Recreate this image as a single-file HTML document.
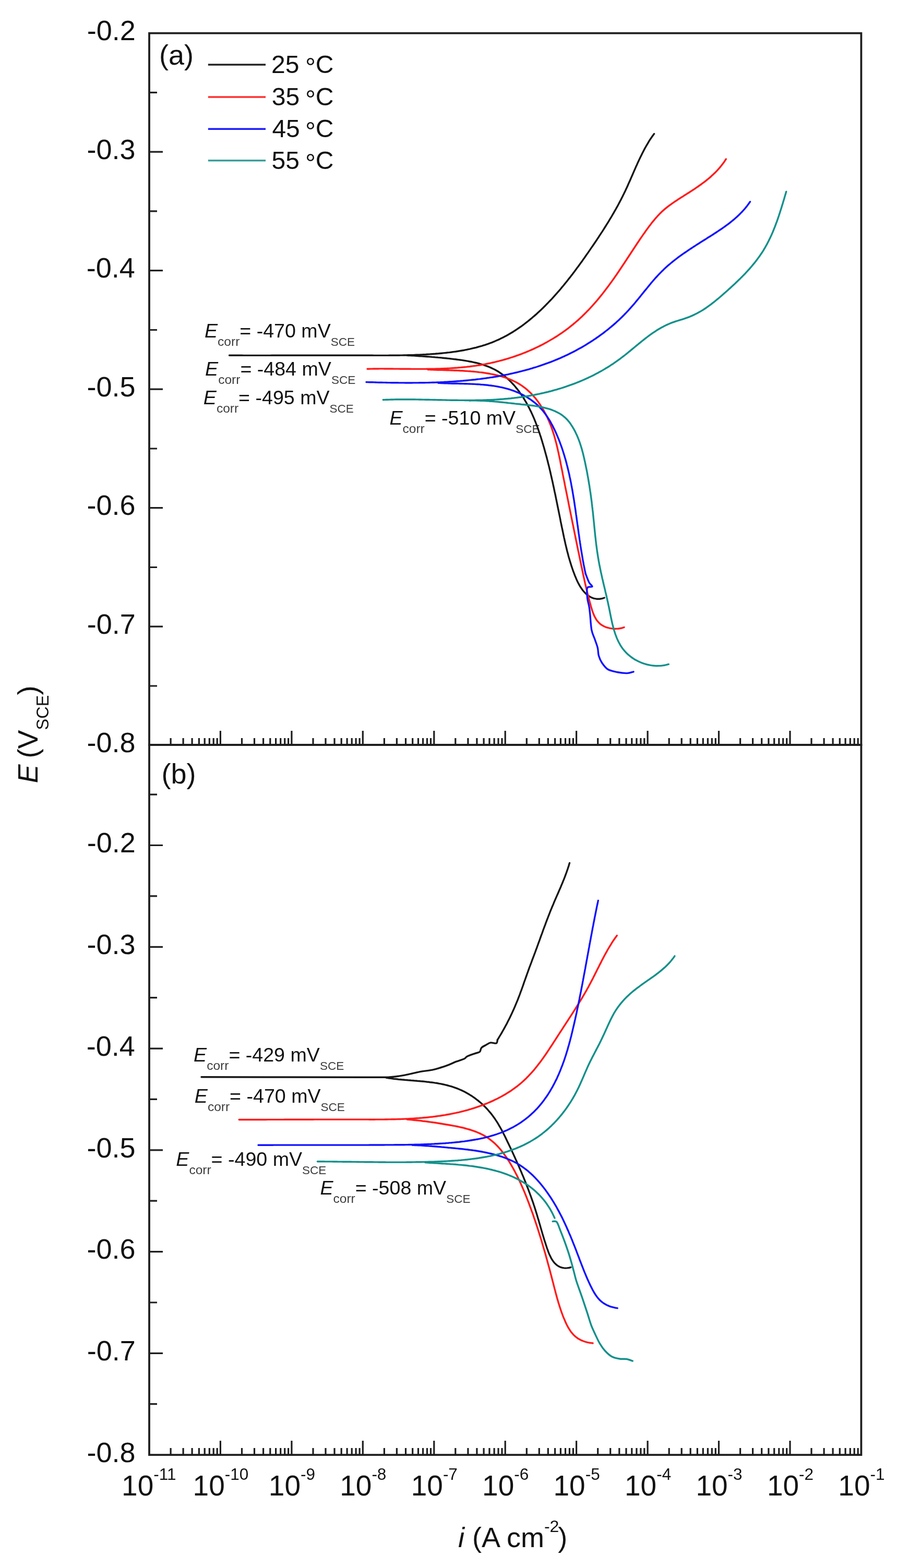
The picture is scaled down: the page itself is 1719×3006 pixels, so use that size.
<!DOCTYPE html>
<html><head><meta charset="utf-8"><title>Polarization curves</title>
<style>
html,body{margin:0;padding:0;background:#fff;}
svg{display:block;filter:blur(0.6px);}
text{font-family:'Liberation Sans', sans-serif;}
</style></head>
<body>
<svg width="1719" height="3006" viewBox="0 0 1719 3006">
<rect width="1719" height="3006" fill="#fff"/>
<g stroke="#1e1e1e" fill="none" stroke-width="3.8" stroke-linecap="square">
<path d="M286.0,63.7 H1650.4 V2789.1 H286.0 Z"/>
<path d="M286.0,1428.0 H1650.4"/>
</g>
<path stroke="#1e1e1e" stroke-width="3.2" fill="none" d="M327.1,1428.0 v-13 M351.1,1428.0 v-13 M368.1,1428.0 v-13 M381.4,1428.0 v-13 M392.2,1428.0 v-13 M401.3,1428.0 v-13 M409.2,1428.0 v-13 M416.2,1428.0 v-13 M422.4,1428.0 v-27 M463.5,1428.0 v-13 M487.5,1428.0 v-13 M504.6,1428.0 v-13 M517.8,1428.0 v-13 M528.6,1428.0 v-13 M537.7,1428.0 v-13 M545.7,1428.0 v-13 M552.6,1428.0 v-13 M558.9,1428.0 v-27 M600.0,1428.0 v-13 M624.0,1428.0 v-13 M641.0,1428.0 v-13 M654.2,1428.0 v-13 M665.1,1428.0 v-13 M674.2,1428.0 v-13 M682.1,1428.0 v-13 M689.1,1428.0 v-13 M695.3,1428.0 v-27 M736.4,1428.0 v-13 M760.4,1428.0 v-13 M777.5,1428.0 v-13 M790.7,1428.0 v-13 M801.5,1428.0 v-13 M810.6,1428.0 v-13 M818.5,1428.0 v-13 M825.5,1428.0 v-13 M831.8,1428.0 v-27 M872.8,1428.0 v-13 M896.9,1428.0 v-13 M913.9,1428.0 v-13 M927.1,1428.0 v-13 M937.9,1428.0 v-13 M947.1,1428.0 v-13 M955.0,1428.0 v-13 M962.0,1428.0 v-13 M968.2,1428.0 v-27 M1009.3,1428.0 v-13 M1033.3,1428.0 v-13 M1050.3,1428.0 v-13 M1063.6,1428.0 v-13 M1074.4,1428.0 v-13 M1083.5,1428.0 v-13 M1091.4,1428.0 v-13 M1098.4,1428.0 v-13 M1104.6,1428.0 v-27 M1145.7,1428.0 v-13 M1169.7,1428.0 v-13 M1186.8,1428.0 v-13 M1200.0,1428.0 v-13 M1210.8,1428.0 v-13 M1219.9,1428.0 v-13 M1227.9,1428.0 v-13 M1234.8,1428.0 v-13 M1241.1,1428.0 v-27 M1282.2,1428.0 v-13 M1306.2,1428.0 v-13 M1323.2,1428.0 v-13 M1336.4,1428.0 v-13 M1347.3,1428.0 v-13 M1356.4,1428.0 v-13 M1364.3,1428.0 v-13 M1371.3,1428.0 v-13 M1377.5,1428.0 v-27 M1418.6,1428.0 v-13 M1442.6,1428.0 v-13 M1459.7,1428.0 v-13 M1472.9,1428.0 v-13 M1483.7,1428.0 v-13 M1492.8,1428.0 v-13 M1500.7,1428.0 v-13 M1507.7,1428.0 v-13 M1514.0,1428.0 v-27 M1555.0,1428.0 v-13 M1579.1,1428.0 v-13 M1596.1,1428.0 v-13 M1609.3,1428.0 v-13 M1620.1,1428.0 v-13 M1629.3,1428.0 v-13 M1637.2,1428.0 v-13 M1644.2,1428.0 v-13 M327.1,2789.1 v-13 M351.1,2789.1 v-13 M368.1,2789.1 v-13 M381.4,2789.1 v-13 M392.2,2789.1 v-13 M401.3,2789.1 v-13 M409.2,2789.1 v-13 M416.2,2789.1 v-13 M422.4,2789.1 v-27 M463.5,2789.1 v-13 M487.5,2789.1 v-13 M504.6,2789.1 v-13 M517.8,2789.1 v-13 M528.6,2789.1 v-13 M537.7,2789.1 v-13 M545.7,2789.1 v-13 M552.6,2789.1 v-13 M558.9,2789.1 v-27 M600.0,2789.1 v-13 M624.0,2789.1 v-13 M641.0,2789.1 v-13 M654.2,2789.1 v-13 M665.1,2789.1 v-13 M674.2,2789.1 v-13 M682.1,2789.1 v-13 M689.1,2789.1 v-13 M695.3,2789.1 v-27 M736.4,2789.1 v-13 M760.4,2789.1 v-13 M777.5,2789.1 v-13 M790.7,2789.1 v-13 M801.5,2789.1 v-13 M810.6,2789.1 v-13 M818.5,2789.1 v-13 M825.5,2789.1 v-13 M831.8,2789.1 v-27 M872.8,2789.1 v-13 M896.9,2789.1 v-13 M913.9,2789.1 v-13 M927.1,2789.1 v-13 M937.9,2789.1 v-13 M947.1,2789.1 v-13 M955.0,2789.1 v-13 M962.0,2789.1 v-13 M968.2,2789.1 v-27 M1009.3,2789.1 v-13 M1033.3,2789.1 v-13 M1050.3,2789.1 v-13 M1063.6,2789.1 v-13 M1074.4,2789.1 v-13 M1083.5,2789.1 v-13 M1091.4,2789.1 v-13 M1098.4,2789.1 v-13 M1104.6,2789.1 v-27 M1145.7,2789.1 v-13 M1169.7,2789.1 v-13 M1186.8,2789.1 v-13 M1200.0,2789.1 v-13 M1210.8,2789.1 v-13 M1219.9,2789.1 v-13 M1227.9,2789.1 v-13 M1234.8,2789.1 v-13 M1241.1,2789.1 v-27 M1282.2,2789.1 v-13 M1306.2,2789.1 v-13 M1323.2,2789.1 v-13 M1336.4,2789.1 v-13 M1347.3,2789.1 v-13 M1356.4,2789.1 v-13 M1364.3,2789.1 v-13 M1371.3,2789.1 v-13 M1377.5,2789.1 v-27 M1418.6,2789.1 v-13 M1442.6,2789.1 v-13 M1459.7,2789.1 v-13 M1472.9,2789.1 v-13 M1483.7,2789.1 v-13 M1492.8,2789.1 v-13 M1500.7,2789.1 v-13 M1507.7,2789.1 v-13 M1514.0,2789.1 v-27 M1555.0,2789.1 v-13 M1579.1,2789.1 v-13 M1596.1,2789.1 v-13 M1609.3,2789.1 v-13 M1620.1,2789.1 v-13 M1629.3,2789.1 v-13 M1637.2,2789.1 v-13 M1644.2,2789.1 v-13 M286.0,291.2 h26 M286.0,518.7 h26 M286.0,746.2 h26 M286.0,973.7 h26 M286.0,1201.2 h26 M286.0,177.4 h15 M286.0,404.9 h15 M286.0,632.5 h15 M286.0,860.0 h15 M286.0,1087.5 h15 M286.0,1315.0 h15 M286.0,1620.5 h26 M286.0,1815.3 h26 M286.0,2010.1 h26 M286.0,2204.8 h26 M286.0,2399.6 h26 M286.0,2594.3 h26 M286.0,1523.2 h15 M286.0,1717.9 h15 M286.0,1912.7 h15 M286.0,2107.4 h15 M286.0,2302.2 h15 M286.0,2497.0 h15 M286.0,2691.7 h15"/>
<g font-family="'Liberation Sans', sans-serif" fill="#111">
<text x="259.9" y="77.2" font-size="54" text-anchor="end">-0.2</text>
<text x="259.6" y="304.7" font-size="54" text-anchor="end">-0.3</text>
<text x="258.8" y="532.2" font-size="54" text-anchor="end">-0.4</text>
<text x="259.5" y="759.7" font-size="54" text-anchor="end">-0.5</text>
<text x="259.6" y="987.2" font-size="54" text-anchor="end">-0.6</text>
<text x="259.9" y="1214.7" font-size="54" text-anchor="end">-0.7</text>
<text x="259.5" y="1442.2" font-size="54" text-anchor="end">-0.8</text>
<text x="259.9" y="1634.3" font-size="54" text-anchor="end">-0.2</text>
<text x="259.6" y="1829.1" font-size="54" text-anchor="end">-0.3</text>
<text x="258.8" y="2023.9" font-size="54" text-anchor="end">-0.4</text>
<text x="259.5" y="2218.6" font-size="54" text-anchor="end">-0.5</text>
<text x="259.6" y="2413.4" font-size="54" text-anchor="end">-0.6</text>
<text x="259.9" y="2608.1" font-size="54" text-anchor="end">-0.7</text>
<text x="259.5" y="2802.9" font-size="54" text-anchor="end">-0.8</text>
<text x="233.1" y="2867.0" font-size="55">10<tspan font-size="31.5" dy="-29.6">-11</tspan></text>
<text x="369.6" y="2867.0" font-size="55">10<tspan font-size="31.5" dy="-29.6">-10</tspan></text>
<text x="514.8" y="2867.0" font-size="55">10<tspan font-size="31.5" dy="-29.6">-9</tspan></text>
<text x="651.2" y="2867.0" font-size="55">10<tspan font-size="31.5" dy="-29.6">-8</tspan></text>
<text x="787.7" y="2867.0" font-size="55">10<tspan font-size="31.5" dy="-29.6">-7</tspan></text>
<text x="924.1" y="2867.0" font-size="55">10<tspan font-size="31.5" dy="-29.6">-6</tspan></text>
<text x="1060.5" y="2867.0" font-size="55">10<tspan font-size="31.5" dy="-29.6">-5</tspan></text>
<text x="1197.0" y="2867.0" font-size="55">10<tspan font-size="31.5" dy="-29.6">-4</tspan></text>
<text x="1333.4" y="2867.0" font-size="55">10<tspan font-size="31.5" dy="-29.6">-3</tspan></text>
<text x="1469.9" y="2867.0" font-size="55">10<tspan font-size="31.5" dy="-29.6">-2</tspan></text>
<text x="1606.3" y="2867.0" font-size="55">10<tspan font-size="31.5" dy="-29.6">-1</tspan></text>
<text x="877.9" y="2966.0" font-size="54"><tspan font-style="italic">i</tspan> (A cm<tspan font-size="32" dy="-29">-2</tspan><tspan dy="29" dx="-2">)</tspan></text>
<text transform="translate(71.5,1501.5) rotate(-90)" x="0" y="0" font-size="54"><tspan font-style="italic">E</tspan><tspan dx="-3"> (</tspan>V<tspan font-size="32.5" dy="21">SCE</tspan><tspan dy="-21">)</tspan></text>
<text x="305.0" y="124.0" font-size="54">(a)</text>
<text x="309.5" y="1501.5" font-size="54">(b)</text>
<path d="M398.8,124.0 H509" stroke="#222222" stroke-width="3.6"/>
<text x="520.1" y="140.2" font-size="48">25</text>
<text x="584.9" y="145.8" font-size="50">°</text>
<text x="604.7" y="140.2" font-size="48">C</text>
<path d="M398.8,186.0 H509" stroke="#ff3030" stroke-width="3.6"/>
<text x="520.7" y="202.2" font-size="48">35</text>
<text x="584.9" y="207.8" font-size="50">°</text>
<text x="604.7" y="202.2" font-size="48">C</text>
<path d="M398.8,247.2 H509" stroke="#1a1aff" stroke-width="3.6"/>
<text x="521.4" y="263.4" font-size="48">45</text>
<text x="584.9" y="269.0" font-size="50">°</text>
<text x="604.7" y="263.4" font-size="48">C</text>
<path d="M398.8,307.8 H509" stroke="#3a9e9a" stroke-width="3.6"/>
<text x="520.6" y="324.0" font-size="48">55</text>
<text x="584.9" y="329.6" font-size="50">°</text>
<text x="604.7" y="324.0" font-size="48">C</text>
<text x="392.0" y="647.2" font-size="37.6" font-style="italic">E</text>
<text x="417.1" y="663.2" font-size="24.5" fill="#3c3c3c">corr</text>
<text x="459.3" y="647.2" font-size="37.6">= -470 mV</text>
<text x="633.8" y="663.2" font-size="22.5" fill="#3c3c3c">SCE</text>
<text x="393.1" y="719.6" font-size="37.6" font-style="italic">E</text>
<text x="418.2" y="735.6" font-size="24.5" fill="#3c3c3c">corr</text>
<text x="460.4" y="719.6" font-size="37.6">= -484 mV</text>
<text x="634.9" y="735.6" font-size="22.5" fill="#3c3c3c">SCE</text>
<text x="389.8" y="774.5" font-size="37.6" font-style="italic">E</text>
<text x="414.9" y="790.5" font-size="24.5" fill="#3c3c3c">corr</text>
<text x="457.1" y="774.5" font-size="37.6">= -495 mV</text>
<text x="631.6" y="790.5" font-size="22.5" fill="#3c3c3c">SCE</text>
<text x="746.4" y="814.0" font-size="37.6" font-style="italic">E</text>
<text x="771.5" y="830.0" font-size="24.5" fill="#3c3c3c">corr</text>
<text x="813.7" y="814.0" font-size="37.6">= -510 mV</text>
<text x="988.2" y="830.0" font-size="22.5" fill="#3c3c3c">SCE</text>
<text x="371.1" y="2034.9" font-size="37.6" font-style="italic">E</text>
<text x="396.2" y="2050.9" font-size="24.5" fill="#3c3c3c">corr</text>
<text x="438.4" y="2034.9" font-size="37.6">= -429 mV</text>
<text x="612.9" y="2050.9" font-size="22.5" fill="#3c3c3c">SCE</text>
<text x="372.8" y="2113.9" font-size="37.6" font-style="italic">E</text>
<text x="397.9" y="2129.9" font-size="24.5" fill="#3c3c3c">corr</text>
<text x="440.1" y="2113.9" font-size="37.6">= -470 mV</text>
<text x="614.6" y="2129.9" font-size="22.5" fill="#3c3c3c">SCE</text>
<text x="337.3" y="2234.5" font-size="37.6" font-style="italic">E</text>
<text x="362.4" y="2250.5" font-size="24.5" fill="#3c3c3c">corr</text>
<text x="404.6" y="2234.5" font-size="37.6">= -490 mV</text>
<text x="579.1" y="2250.5" font-size="22.5" fill="#3c3c3c">SCE</text>
<text x="613.4" y="2290.1" font-size="37.6" font-style="italic">E</text>
<text x="638.5" y="2306.1" font-size="24.5" fill="#3c3c3c">corr</text>
<text x="680.7" y="2290.1" font-size="37.6">= -508 mV</text>
<text x="855.2" y="2306.1" font-size="22.5" fill="#3c3c3c">SCE</text>
</g>
<path d="M439.5,681.3 L442.5,681.3 L445.5,681.3 L448.5,681.3 L451.5,681.3 L454.5,681.3 L457.5,681.3 L460.6,681.3 L463.6,681.3 L466.6,681.4 L469.6,681.4 L472.6,681.4 L475.6,681.4 L478.6,681.4 L481.6,681.4 L484.6,681.4 L487.7,681.4 L490.7,681.4 L493.7,681.4 L496.7,681.4 L499.7,681.4 L502.7,681.4 L505.7,681.4 L508.8,681.4 L511.8,681.4 L514.8,681.4 L517.8,681.4 L520.8,681.3 L523.8,681.3 L526.8,681.3 L529.9,681.3 L532.9,681.3 L535.9,681.3 L538.9,681.3 L541.9,681.3 L544.9,681.3 L548.0,681.3 L551.0,681.3 L554.0,681.3 L557.0,681.3 L560.0,681.3 L563.1,681.3 L566.1,681.3 L569.1,681.3 L572.1,681.3 L575.1,681.3 L578.1,681.3 L581.2,681.3 L584.2,681.3 L587.2,681.2 L590.2,681.2 L593.2,681.2 L596.2,681.2 L599.3,681.2 L602.3,681.2 L605.3,681.2 L608.3,681.2 L611.3,681.2 L614.3,681.2 L617.3,681.2 L620.4,681.2 L623.4,681.2 L626.4,681.2 L629.4,681.2 L632.4,681.2 L635.4,681.2 L638.4,681.2 L641.5,681.2 L644.5,681.2 L647.5,681.2 L650.5,681.2 L653.5,681.2 L656.5,681.2 L659.5,681.2 L662.5,681.2 L665.5,681.2 L668.6,681.2 L671.6,681.2 L674.6,681.2 L677.6,681.2 L680.6,681.2 L683.6,681.2 L686.6,681.3 L689.6,681.3 L692.6,681.3 L695.6,681.3 L698.6,681.3 L701.6,681.3 L704.6,681.3 L707.6,681.3 L710.6,681.3 L713.6,681.3 L716.6,681.4 L719.6,681.4 L722.6,681.4 L725.6,681.4 L728.6,681.4 L731.6,681.4 L734.6,681.4 L737.6,681.4 L740.6,681.4 L743.6,681.4 L746.6,681.3 L749.6,681.3 L752.6,681.3 L755.6,681.3 L758.6,681.3 L761.6,681.2 L764.6,681.2 L767.6,681.1 L770.7,681.1 L773.7,681.0 L776.7,681.0 L779.7,680.9 L782.7,680.8 L785.7,680.7 L788.7,680.6 L791.7,680.6 L794.7,680.4 L797.8,680.3 L800.8,680.2 L803.8,680.1 L806.8,679.9 L809.8,679.8 L812.9,679.6 L815.9,679.5 L818.9,679.3 L822.0,679.1 L825.0,678.9 L828.0,678.7 L831.1,678.5 L834.1,678.3 L837.1,678.0 L840.2,677.8 L843.2,677.5 L846.2,677.2 L849.3,676.9 L852.3,676.6 L855.4,676.3 L858.4,675.9 L861.4,675.6 L864.4,675.2 L867.5,674.8 L870.5,674.4 L873.5,674.0 L876.5,673.5 L879.5,673.0 L882.5,672.5 L885.5,672.0 L888.5,671.5 L891.5,670.9 L894.4,670.3 L897.4,669.7 L900.3,669.1 L903.3,668.4 L906.2,667.7 L909.1,667.0 L912.1,666.3 L915.0,665.5 L917.9,664.7 L920.7,663.9 L923.6,663.1 L926.5,662.2 L929.3,661.3 L932.1,660.3 L935.0,659.4 L937.8,658.4 L940.5,657.3 L943.3,656.3 L946.1,655.2 L948.8,654.0 L951.5,652.8 L954.3,651.6 L957.0,650.4 L959.6,649.1 L962.3,647.8 L964.9,646.5 L967.6,645.1 L970.2,643.7 L972.8,642.3 L975.4,640.8 L977.9,639.3 L980.5,637.8 L983.0,636.2 L985.5,634.6 L988.0,633.0 L990.5,631.4 L993.0,629.7 L995.4,628.0 L997.9,626.3 L1000.3,624.6 L1002.7,622.8 L1005.1,621.0 L1007.5,619.2 L1009.8,617.4 L1012.2,615.5 L1014.5,613.6 L1016.9,611.7 L1019.2,609.8 L1021.4,607.8 L1023.7,605.9 L1026.0,603.9 L1028.2,601.9 L1030.5,599.8 L1032.7,597.8 L1034.9,595.7 L1037.1,593.7 L1039.3,591.6 L1041.4,589.5 L1043.6,587.3 L1045.7,585.2 L1047.8,583.0 L1049.9,580.9 L1052.0,578.7 L1054.1,576.5 L1056.2,574.3 L1058.3,572.1 L1060.3,569.9 L1062.3,567.6 L1064.3,565.4 L1066.3,563.1 L1068.3,560.9 L1070.3,558.6 L1072.3,556.3 L1074.3,554.0 L1076.2,551.7 L1078.1,549.3 L1080.1,547.0 L1082.0,544.7 L1083.9,542.3 L1085.8,540.0 L1087.7,537.6 L1089.5,535.2 L1091.4,532.9 L1093.3,530.5 L1095.1,528.1 L1097.0,525.7 L1098.8,523.3 L1100.6,520.9 L1102.4,518.4 L1104.2,516.0 L1106.0,513.6 L1107.8,511.2 L1109.6,508.7 L1111.4,506.3 L1113.2,503.8 L1114.9,501.4 L1116.7,498.9 L1118.4,496.4 L1120.2,494.0 L1121.9,491.5 L1123.6,489.0 L1125.4,486.6 L1127.1,484.1 L1128.8,481.6 L1130.5,479.1 L1132.2,476.6 L1133.9,474.1 L1135.6,471.7 L1137.3,469.2 L1139.0,466.7 L1140.7,464.2 L1142.4,461.7 L1144.1,459.2 L1145.7,456.7 L1147.4,454.2 L1149.0,451.7 L1150.7,449.1 L1152.3,446.6 L1154.0,444.1 L1155.6,441.6 L1157.2,439.1 L1158.8,436.5 L1160.4,434.0 L1162.0,431.4 L1163.6,428.9 L1165.2,426.3 L1166.7,423.8 L1168.3,421.2 L1169.8,418.7 L1171.4,416.1 L1172.9,413.5 L1174.4,410.9 L1175.9,408.3 L1177.4,405.7 L1178.9,403.1 L1180.4,400.5 L1181.8,397.9 L1183.3,395.3 L1184.7,392.7 L1186.1,390.0 L1187.5,387.4 L1188.9,384.7 L1190.3,382.1 L1191.6,379.4 L1193.0,376.7 L1194.3,374.0 L1195.7,371.3 L1197.0,368.6 L1198.3,365.9 L1199.5,363.2 L1200.8,360.5 L1202.1,357.7 L1203.3,355.0 L1204.5,352.2 L1205.7,349.5 L1207.0,346.7 L1208.2,344.0 L1209.4,341.2 L1210.6,338.4 L1211.8,335.7 L1213.0,332.9 L1214.2,330.1 L1215.4,327.4 L1216.6,324.6 L1217.8,321.9 L1219.0,319.1 L1220.3,316.4 L1221.5,313.6 L1222.7,310.9 L1224.0,308.2 L1225.3,305.4 L1226.6,302.7 L1227.9,300.0 L1229.2,297.4 L1230.5,294.7 L1231.9,292.0 L1233.2,289.4 L1234.6,286.7 L1236.0,284.1 L1237.5,281.5 L1239.0,278.9 L1240.5,276.3 L1242.0,273.8 L1243.5,271.2 L1245.1,268.7 L1246.7,266.2 L1248.4,263.8 L1250.1,261.3 L1251.8,258.9 L1253.6,256.5" stroke="#161616" stroke-width="3.4" fill="none" stroke-linejoin="round" stroke-linecap="round"/>
<path d="M780.0,681.3 L783.1,681.5 L786.2,681.6 L789.2,681.8 L792.3,681.9 L795.3,682.1 L798.3,682.3 L801.4,682.5 L804.4,682.7 L807.4,682.9 L810.3,683.1 L813.3,683.3 L816.3,683.5 L819.2,683.7 L822.2,683.9 L825.2,684.1 L828.1,684.4 L831.1,684.6 L834.0,684.9 L837.0,685.1 L839.9,685.4 L842.9,685.6 L845.8,685.9 L848.8,686.2 L851.7,686.5 L854.7,686.8 L857.7,687.1 L860.7,687.4 L863.6,687.8 L866.6,688.1 L869.7,688.5 L872.7,688.8 L875.7,689.2 L878.7,689.6 L881.8,690.0 L884.8,690.4 L887.9,690.9 L890.9,691.4 L893.9,691.9 L897.0,692.4 L900.0,693.0 L903.0,693.5 L906.0,694.2 L909.0,694.8 L912.0,695.5 L915.0,696.2 L917.9,697.0 L920.8,697.8 L923.7,698.7 L926.6,699.6 L929.5,700.6 L932.3,701.6 L935.1,702.6 L937.9,703.8 L940.6,704.9 L943.3,706.2 L946.0,707.5 L948.6,708.8 L951.2,710.3 L953.8,711.8 L956.3,713.3 L958.7,715.0 L961.1,716.6 L963.5,718.4 L965.9,720.2 L968.2,722.0 L970.4,724.0 L972.7,725.9 L974.9,727.9 L977.0,730.0 L979.1,732.1 L981.2,734.3 L983.2,736.5 L985.2,738.7 L987.2,741.0 L989.1,743.3 L991.0,745.6 L992.8,748.0 L994.7,750.4 L996.4,752.9 L998.2,755.4 L999.9,757.9 L1001.5,760.4 L1003.2,762.9 L1004.8,765.5 L1006.3,768.1 L1007.9,770.7 L1009.4,773.3 L1010.8,776.0 L1012.2,778.6 L1013.6,781.3 L1015.0,784.0 L1016.3,786.7 L1017.7,789.4 L1018.9,792.1 L1020.2,794.9 L1021.4,797.6 L1022.6,800.4 L1023.8,803.2 L1024.9,805.9 L1026.0,808.7 L1027.1,811.5 L1028.2,814.4 L1029.3,817.2 L1030.3,820.0 L1031.3,822.8 L1032.3,825.7 L1033.3,828.5 L1034.3,831.4 L1035.2,834.3 L1036.2,837.1 L1037.1,840.0 L1038.0,842.9 L1038.9,845.8 L1039.7,848.7 L1040.6,851.6 L1041.4,854.4 L1042.3,857.3 L1043.1,860.2 L1043.9,863.1 L1044.7,866.1 L1045.5,869.0 L1046.3,871.9 L1047.1,874.8 L1047.9,877.7 L1048.6,880.6 L1049.4,883.5 L1050.1,886.5 L1050.8,889.4 L1051.6,892.3 L1052.3,895.2 L1053.0,898.2 L1053.7,901.1 L1054.4,904.0 L1055.1,907.0 L1055.7,909.9 L1056.4,912.9 L1057.1,915.8 L1057.7,918.7 L1058.4,921.7 L1059.1,924.6 L1059.7,927.6 L1060.3,930.5 L1061.0,933.5 L1061.6,936.4 L1062.2,939.4 L1062.8,942.3 L1063.5,945.3 L1064.1,948.2 L1064.7,951.2 L1065.3,954.1 L1065.9,957.1 L1066.5,960.0 L1067.1,963.0 L1067.7,965.9 L1068.3,968.9 L1068.9,971.8 L1069.5,974.8 L1070.1,977.7 L1070.7,980.7 L1071.3,983.6 L1071.9,986.5 L1072.5,989.5 L1073.1,992.4 L1073.7,995.4 L1074.2,998.3 L1074.8,1001.3 L1075.4,1004.2 L1076.0,1007.1 L1076.6,1010.1 L1077.2,1013.0 L1077.9,1016.0 L1078.5,1018.9 L1079.1,1021.8 L1079.7,1024.8 L1080.3,1027.7 L1080.9,1030.6 L1081.6,1033.5 L1082.2,1036.5 L1082.9,1039.4 L1083.5,1042.3 L1084.2,1045.2 L1084.9,1048.1 L1085.6,1051.0 L1086.3,1054.0 L1087.0,1056.9 L1087.8,1059.8 L1088.6,1062.7 L1089.3,1065.6 L1090.1,1068.5 L1091.0,1071.4 L1091.8,1074.3 L1092.7,1077.2 L1093.6,1080.1 L1094.5,1083.0 L1095.4,1085.9 L1096.4,1088.8 L1097.4,1091.7 L1098.4,1094.6 L1099.5,1097.5 L1100.6,1100.4 L1101.7,1103.3 L1102.9,1106.2 L1104.1,1109.1 L1105.3,1111.9 L1106.6,1114.7 L1108.0,1117.5 L1109.4,1120.1 L1110.9,1122.8 L1112.4,1125.3 L1114.1,1127.8 L1115.8,1130.2 L1117.5,1132.5 L1119.4,1134.7 L1121.4,1136.8 L1123.4,1138.7 L1125.6,1140.6 L1127.8,1142.2 L1130.1,1143.7 L1132.6,1145.0 L1135.1,1146.2 L1137.7,1147.1 L1140.4,1147.7 L1143.2,1148.2 L1146.0,1148.3 L1149.0,1148.2 L1152.0,1147.8 L1155.0,1147.1 L1158.2,1146.0" stroke="#161616" stroke-width="3.4" fill="none" stroke-linejoin="round" stroke-linecap="round"/>
<path d="M704.0,707.2 L707.0,707.2 L710.0,707.1 L713.0,707.1 L716.0,707.0 L718.9,707.0 L721.9,707.0 L724.9,707.0 L727.9,706.9 L730.9,706.9 L733.9,706.9 L737.0,707.0 L740.0,707.0 L743.0,707.0 L746.0,707.0 L749.0,707.0 L752.0,707.0 L755.0,707.1 L758.0,707.1 L761.1,707.1 L764.1,707.1 L767.1,707.2 L770.1,707.2 L773.2,707.2 L776.2,707.3 L779.2,707.3 L782.2,707.3 L785.3,707.3 L788.3,707.4 L791.3,707.4 L794.3,707.4 L797.4,707.4 L800.4,707.4 L803.4,707.4 L806.5,707.4 L809.5,707.4 L812.5,707.4 L815.5,707.4 L818.6,707.3 L821.6,707.3 L824.6,707.3 L827.7,707.2 L830.7,707.2 L833.7,707.1 L836.7,707.0 L839.8,706.9 L842.8,706.9 L845.8,706.7 L848.8,706.6 L851.9,706.5 L854.9,706.4 L857.9,706.2 L860.9,706.1 L863.9,705.9 L866.9,705.7 L870.0,705.5 L873.0,705.3 L876.0,705.1 L879.0,704.8 L882.0,704.6 L885.0,704.3 L888.0,704.0 L891.0,703.7 L894.0,703.4 L897.0,703.0 L900.0,702.7 L903.0,702.3 L906.0,701.9 L908.9,701.5 L911.9,701.1 L914.9,700.6 L917.9,700.2 L920.9,699.7 L923.8,699.2 L926.8,698.6 L929.7,698.1 L932.7,697.5 L935.7,696.9 L938.6,696.3 L941.6,695.7 L944.5,695.0 L947.4,694.3 L950.4,693.6 L953.3,692.9 L956.2,692.2 L959.1,691.4 L962.0,690.6 L964.9,689.8 L967.8,689.0 L970.7,688.2 L973.6,687.3 L976.5,686.4 L979.4,685.5 L982.2,684.6 L985.1,683.6 L987.9,682.7 L990.8,681.7 L993.6,680.7 L996.4,679.6 L999.2,678.6 L1002.0,677.5 L1004.8,676.4 L1007.6,675.3 L1010.4,674.1 L1013.1,673.0 L1015.9,671.8 L1018.6,670.6 L1021.4,669.4 L1024.1,668.1 L1026.8,666.8 L1029.5,665.6 L1032.2,664.2 L1034.9,662.9 L1037.6,661.6 L1040.2,660.2 L1042.9,658.8 L1045.5,657.3 L1048.1,655.9 L1050.7,654.4 L1053.3,652.9 L1055.9,651.4 L1058.5,649.9 L1061.0,648.4 L1063.6,646.8 L1066.1,645.2 L1068.6,643.6 L1071.1,641.9 L1073.6,640.2 L1076.1,638.6 L1078.5,636.8 L1081.0,635.1 L1083.4,633.4 L1085.8,631.6 L1088.2,629.8 L1090.6,628.0 L1092.9,626.1 L1095.3,624.2 L1097.6,622.4 L1099.9,620.4 L1102.2,618.5 L1104.5,616.5 L1106.7,614.6 L1109.0,612.6 L1111.2,610.5 L1113.4,608.5 L1115.6,606.4 L1117.8,604.3 L1119.9,602.2 L1122.1,600.1 L1124.2,597.9 L1126.3,595.7 L1128.4,593.6 L1130.5,591.4 L1132.5,589.1 L1134.6,586.9 L1136.6,584.6 L1138.6,582.4 L1140.6,580.1 L1142.6,577.8 L1144.6,575.5 L1146.5,573.1 L1148.4,570.8 L1150.4,568.4 L1152.3,566.1 L1154.2,563.7 L1156.1,561.3 L1157.9,558.9 L1159.8,556.5 L1161.6,554.1 L1163.5,551.6 L1165.3,549.2 L1167.1,546.8 L1168.9,544.3 L1170.7,541.8 L1172.5,539.4 L1174.2,536.9 L1176.0,534.4 L1177.7,532.0 L1179.4,529.5 L1181.2,527.0 L1182.9,524.5 L1184.6,522.0 L1186.3,519.5 L1187.9,517.0 L1189.6,514.5 L1191.3,512.0 L1192.9,509.5 L1194.6,507.0 L1196.3,504.5 L1197.9,502.0 L1199.6,499.5 L1201.2,497.0 L1202.8,494.5 L1204.5,492.0 L1206.1,489.5 L1207.8,487.0 L1209.4,484.5 L1211.0,482.0 L1212.7,479.5 L1214.3,477.0 L1216.0,474.5 L1217.6,472.0 L1219.3,469.5 L1220.9,467.0 L1222.6,464.5 L1224.3,462.0 L1225.9,459.5 L1227.6,457.1 L1229.3,454.6 L1231.0,452.1 L1232.7,449.6 L1234.5,447.2 L1236.2,444.7 L1237.9,442.3 L1239.7,439.8 L1241.4,437.4 L1243.2,435.0 L1245.0,432.6 L1246.9,430.2 L1248.7,427.8 L1250.6,425.4 L1252.5,423.1 L1254.4,420.8 L1256.3,418.5 L1258.3,416.3 L1260.3,414.0 L1262.4,411.9 L1264.4,409.7 L1266.6,407.6 L1268.7,405.6 L1270.9,403.5 L1273.1,401.6 L1275.4,399.6 L1277.7,397.8 L1280.1,395.9 L1282.5,394.1 L1284.9,392.3 L1287.3,390.6 L1289.8,388.8 L1292.3,387.1 L1294.8,385.5 L1297.3,383.8 L1299.8,382.1 L1302.4,380.5 L1304.9,378.9 L1307.5,377.3 L1310.1,375.6 L1312.6,374.0 L1315.2,372.4 L1317.7,370.8 L1320.3,369.2 L1322.8,367.5 L1325.4,365.9 L1327.9,364.2 L1330.4,362.6 L1332.9,360.9 L1335.4,359.2 L1337.9,357.5 L1340.4,355.7 L1342.8,354.0 L1345.3,352.2 L1347.7,350.4 L1350.1,348.6 L1352.4,346.8 L1354.8,344.9 L1357.1,343.0 L1359.4,341.1 L1361.7,339.1 L1363.9,337.1 L1366.1,335.1 L1368.3,333.0 L1370.4,331.0 L1372.5,328.8 L1374.6,326.6 L1376.6,324.4 L1378.6,322.2 L1380.5,319.9 L1382.4,317.5 L1384.3,315.1 L1386.1,312.7 L1387.9,310.2 L1389.6,307.6 L1391.3,305.0" stroke="#ff1c1c" stroke-width="3.4" fill="none" stroke-linejoin="round" stroke-linecap="round"/>
<path d="M820.0,708.5 L823.1,708.6 L826.2,708.8 L829.3,708.9 L832.4,709.0 L835.4,709.1 L838.4,709.2 L841.5,709.3 L844.5,709.4 L847.5,709.4 L850.5,709.5 L853.5,709.6 L856.5,709.7 L859.4,709.8 L862.4,709.9 L865.4,710.0 L868.3,710.1 L871.3,710.2 L874.2,710.3 L877.2,710.4 L880.1,710.5 L883.1,710.7 L886.0,710.8 L889.0,711.0 L892.0,711.2 L894.9,711.4 L897.9,711.6 L900.9,711.8 L903.9,712.1 L906.9,712.3 L909.9,712.6 L912.9,712.9 L915.9,713.2 L918.9,713.6 L922.0,713.9 L925.0,714.3 L928.1,714.8 L931.1,715.2 L934.1,715.7 L937.2,716.2 L940.2,716.8 L943.3,717.4 L946.3,718.0 L949.3,718.7 L952.3,719.4 L955.3,720.1 L958.2,720.9 L961.2,721.7 L964.1,722.6 L967.0,723.5 L969.9,724.5 L972.7,725.5 L975.6,726.6 L978.3,727.7 L981.1,728.9 L983.8,730.2 L986.5,731.5 L989.2,732.8 L991.8,734.3 L994.3,735.7 L996.9,737.3 L999.3,738.9 L1001.8,740.6 L1004.1,742.3 L1006.5,744.1 L1008.8,746.0 L1011.0,747.9 L1013.2,749.9 L1015.4,751.9 L1017.5,754.0 L1019.5,756.1 L1021.6,758.3 L1023.5,760.6 L1025.5,762.8 L1027.3,765.1 L1029.2,767.5 L1031.0,769.9 L1032.7,772.4 L1034.5,774.8 L1036.1,777.3 L1037.7,779.9 L1039.3,782.5 L1040.9,785.1 L1042.4,787.7 L1043.8,790.4 L1045.3,793.0 L1046.6,795.7 L1048.0,798.5 L1049.3,801.2 L1050.5,804.0 L1051.8,806.8 L1052.9,809.5 L1054.1,812.3 L1055.2,815.2 L1056.3,818.0 L1057.3,820.8 L1058.3,823.7 L1059.2,826.5 L1060.2,829.4 L1061.1,832.2 L1062.0,835.1 L1062.8,838.0 L1063.6,840.9 L1064.4,843.8 L1065.2,846.7 L1066.0,849.6 L1066.7,852.5 L1067.4,855.5 L1068.1,858.4 L1068.8,861.3 L1069.4,864.3 L1070.1,867.2 L1070.7,870.2 L1071.3,873.1 L1072.0,876.1 L1072.6,879.0 L1073.2,882.0 L1073.8,884.9 L1074.3,887.9 L1074.9,890.9 L1075.5,893.8 L1076.1,896.8 L1076.7,899.7 L1077.3,902.7 L1077.9,905.7 L1078.4,908.6 L1079.0,911.6 L1079.6,914.6 L1080.2,917.5 L1080.8,920.5 L1081.4,923.4 L1082.0,926.4 L1082.5,929.4 L1083.1,932.3 L1083.7,935.3 L1084.3,938.2 L1084.9,941.2 L1085.5,944.2 L1086.1,947.1 L1086.7,950.1 L1087.3,953.0 L1087.9,956.0 L1088.5,959.0 L1089.1,961.9 L1089.6,964.9 L1090.2,967.8 L1090.8,970.8 L1091.4,973.7 L1092.0,976.7 L1092.6,979.7 L1093.2,982.6 L1093.8,985.6 L1094.4,988.5 L1095.0,991.5 L1095.6,994.4 L1096.2,997.4 L1096.8,1000.3 L1097.4,1003.3 L1098.0,1006.2 L1098.6,1009.2 L1099.2,1012.2 L1099.8,1015.1 L1100.4,1018.1 L1101.0,1021.0 L1101.6,1024.0 L1102.2,1026.9 L1102.8,1029.9 L1103.4,1032.8 L1104.0,1035.8 L1104.6,1038.7 L1105.2,1041.7 L1105.8,1044.6 L1106.4,1047.6 L1107.0,1050.5 L1107.6,1053.5 L1108.2,1056.4 L1108.9,1059.4 L1109.5,1062.3 L1110.1,1065.3 L1110.7,1068.2 L1111.3,1071.2 L1111.9,1074.1 L1112.5,1077.1 L1113.1,1080.0 L1113.7,1082.9 L1114.3,1085.9 L1115.0,1088.8 L1115.6,1091.8 L1116.2,1094.7 L1116.8,1097.7 L1117.4,1100.6 L1118.1,1103.6 L1118.7,1106.5 L1119.4,1109.4 L1120.0,1112.4 L1120.7,1115.3 L1121.3,1118.3 L1122.0,1121.2 L1122.7,1124.2 L1123.4,1127.1 L1124.1,1130.0 L1124.8,1133.0 L1125.5,1135.9 L1126.2,1138.9 L1127.0,1141.8 L1127.7,1144.8 L1128.5,1147.7 L1129.3,1150.6 L1130.1,1153.6 L1130.9,1156.5 L1131.7,1159.5 L1132.5,1162.4 L1133.4,1165.3 L1134.3,1168.3 L1135.2,1171.2 L1136.2,1174.0 L1137.2,1176.8 L1138.4,1179.5 L1139.6,1182.2 L1141.0,1184.7 L1142.4,1187.2 L1144.0,1189.5 L1145.8,1191.7 L1147.7,1193.8 L1149.8,1195.8 L1152.0,1197.5 L1154.5,1199.1 L1157.1,1200.5 L1159.9,1201.8 L1162.8,1202.8 L1165.8,1203.7 L1168.9,1204.4 L1172.0,1204.9 L1175.2,1205.3 L1178.3,1205.5 L1181.5,1205.4 L1184.6,1205.2 L1187.6,1204.8 L1190.5,1204.3 L1193.3,1203.5 L1196.0,1202.6" stroke="#ff1c1c" stroke-width="3.4" fill="none" stroke-linejoin="round" stroke-linecap="round"/>
<path d="M702.0,732.5 L705.0,732.6 L708.0,732.7 L710.9,732.7 L713.9,732.8 L716.9,732.9 L719.9,733.0 L722.8,733.1 L725.8,733.2 L728.8,733.2 L731.8,733.3 L734.8,733.4 L737.8,733.4 L740.8,733.5 L743.8,733.6 L746.8,733.6 L749.8,733.7 L752.9,733.7 L755.9,733.8 L758.9,733.8 L761.9,733.8 L764.9,733.9 L768.0,733.9 L771.0,733.9 L774.0,733.9 L777.0,734.0 L780.1,734.0 L783.1,734.0 L786.1,734.0 L789.2,734.0 L792.2,733.9 L795.2,733.9 L798.3,733.9 L801.3,733.9 L804.3,733.8 L807.4,733.8 L810.4,733.8 L813.4,733.7 L816.5,733.6 L819.5,733.6 L822.6,733.5 L825.6,733.4 L828.6,733.3 L831.7,733.2 L834.7,733.1 L837.8,733.0 L840.8,732.9 L843.8,732.8 L846.9,732.6 L849.9,732.5 L853.0,732.3 L856.0,732.2 L859.0,732.0 L862.1,731.8 L865.1,731.6 L868.1,731.4 L871.2,731.2 L874.2,731.0 L877.2,730.8 L880.3,730.6 L883.3,730.3 L886.3,730.1 L889.3,729.8 L892.4,729.5 L895.4,729.2 L898.4,728.9 L901.4,728.6 L904.4,728.3 L907.5,728.0 L910.5,727.7 L913.5,727.3 L916.5,726.9 L919.5,726.6 L922.5,726.2 L925.5,725.8 L928.5,725.4 L931.5,725.0 L934.5,724.5 L937.4,724.1 L940.4,723.6 L943.4,723.2 L946.4,722.7 L949.4,722.2 L952.3,721.7 L955.3,721.2 L958.3,720.6 L961.2,720.1 L964.2,719.5 L967.1,718.9 L970.1,718.4 L973.0,717.8 L976.0,717.1 L978.9,716.5 L981.8,715.9 L984.8,715.2 L987.7,714.5 L990.6,713.8 L993.5,713.1 L996.4,712.4 L999.3,711.7 L1002.2,710.9 L1005.1,710.2 L1008.0,709.4 L1010.9,708.6 L1013.8,707.8 L1016.6,706.9 L1019.5,706.1 L1022.4,705.2 L1025.2,704.4 L1028.1,703.5 L1030.9,702.5 L1033.8,701.6 L1036.6,700.7 L1039.4,699.7 L1042.3,698.7 L1045.1,697.7 L1047.9,696.7 L1050.7,695.7 L1053.5,694.6 L1056.3,693.6 L1059.1,692.5 L1061.8,691.4 L1064.6,690.2 L1067.4,689.1 L1070.1,687.9 L1072.9,686.8 L1075.6,685.6 L1078.3,684.3 L1081.1,683.1 L1083.8,681.8 L1086.5,680.6 L1089.2,679.3 L1091.9,677.9 L1094.6,676.6 L1097.3,675.2 L1100.0,673.9 L1102.6,672.5 L1105.3,671.0 L1107.9,669.6 L1110.6,668.1 L1113.2,666.7 L1115.8,665.2 L1118.5,663.6 L1121.1,662.1 L1123.7,660.5 L1126.2,658.9 L1128.8,657.3 L1131.4,655.7 L1134.0,654.0 L1136.5,652.4 L1139.0,650.7 L1141.6,649.0 L1144.1,647.2 L1146.6,645.5 L1149.1,643.7 L1151.5,641.9 L1154.0,640.1 L1156.4,638.3 L1158.9,636.4 L1161.3,634.5 L1163.7,632.7 L1166.1,630.7 L1168.4,628.8 L1170.8,626.9 L1173.1,624.9 L1175.5,622.9 L1177.8,620.9 L1180.0,618.9 L1182.3,616.8 L1184.6,614.8 L1186.8,612.7 L1189.0,610.6 L1191.2,608.5 L1193.4,606.3 L1195.5,604.2 L1197.6,602.0 L1199.7,599.8 L1201.8,597.6 L1203.9,595.4 L1205.9,593.2 L1207.9,590.9 L1209.9,588.6 L1211.9,586.4 L1213.9,584.1 L1215.9,581.8 L1217.8,579.5 L1219.7,577.1 L1221.6,574.8 L1223.6,572.5 L1225.5,570.1 L1227.4,567.8 L1229.2,565.5 L1231.1,563.1 L1233.0,560.8 L1234.9,558.4 L1236.8,556.1 L1238.7,553.8 L1240.6,551.5 L1242.5,549.1 L1244.4,546.8 L1246.3,544.5 L1248.2,542.2 L1250.1,540.0 L1252.1,537.7 L1254.0,535.5 L1256.0,533.2 L1258.0,531.0 L1260.0,528.8 L1262.0,526.6 L1264.1,524.5 L1266.2,522.4 L1268.2,520.3 L1270.4,518.2 L1272.5,516.1 L1274.7,514.1 L1276.9,512.1 L1279.1,510.1 L1281.3,508.1 L1283.6,506.2 L1285.9,504.3 L1288.2,502.4 L1290.5,500.5 L1292.9,498.7 L1295.2,496.8 L1297.6,495.0 L1300.0,493.2 L1302.4,491.4 L1304.9,489.7 L1307.3,487.9 L1309.8,486.2 L1312.2,484.5 L1314.7,482.8 L1317.2,481.1 L1319.7,479.4 L1322.3,477.7 L1324.8,476.0 L1327.3,474.4 L1329.8,472.7 L1332.4,471.1 L1334.9,469.4 L1337.5,467.8 L1340.1,466.2 L1342.6,464.5 L1345.2,462.9 L1347.7,461.3 L1350.3,459.7 L1352.9,458.1 L1355.4,456.4 L1358.0,454.8 L1360.6,453.2 L1363.1,451.6 L1365.7,450.0 L1368.2,448.3 L1370.7,446.7 L1373.3,445.0 L1375.8,443.4 L1378.3,441.7 L1380.8,440.0 L1383.3,438.3 L1385.7,436.6 L1388.2,434.9 L1390.6,433.1 L1393.0,431.4 L1395.4,429.6 L1397.8,427.8 L1400.2,425.9 L1402.5,424.0 L1404.8,422.1 L1407.1,420.2 L1409.3,418.3 L1411.6,416.3 L1413.8,414.2 L1415.9,412.2 L1418.1,410.1 L1420.2,407.9 L1422.3,405.8 L1424.3,403.5 L1426.3,401.3 L1428.3,399.0 L1430.2,396.6 L1432.1,394.2 L1433.9,391.8 L1435.7,389.2 L1437.5,386.7" stroke="#1212ff" stroke-width="3.4" fill="none" stroke-linejoin="round" stroke-linecap="round"/>
<path d="M840.0,734.2 L842.9,734.4 L845.7,734.5 L848.6,734.6 L851.5,734.7 L854.4,734.8 L857.4,734.9 L860.3,735.0 L863.3,735.1 L866.3,735.2 L869.3,735.2 L872.3,735.3 L875.3,735.3 L878.4,735.4 L881.5,735.5 L884.5,735.5 L887.6,735.6 L890.7,735.7 L893.8,735.8 L896.9,735.9 L900.0,736.0 L903.1,736.1 L906.2,736.2 L909.3,736.4 L912.4,736.6 L915.5,736.7 L918.6,736.9 L921.7,737.2 L924.8,737.4 L927.9,737.7 L931.0,738.0 L934.1,738.3 L937.2,738.7 L940.2,739.0 L943.3,739.5 L946.4,739.9 L949.4,740.4 L952.4,740.9 L955.5,741.5 L958.5,742.1 L961.4,742.7 L964.4,743.4 L967.4,744.1 L970.3,744.9 L973.2,745.7 L976.1,746.5 L979.0,747.5 L981.8,748.4 L984.7,749.4 L987.5,750.5 L990.2,751.6 L993.0,752.8 L995.7,754.0 L998.4,755.3 L1001.1,756.6 L1003.7,758.0 L1006.3,759.4 L1008.8,760.9 L1011.3,762.4 L1013.8,764.0 L1016.3,765.6 L1018.7,767.3 L1021.0,769.1 L1023.3,770.9 L1025.6,772.7 L1027.8,774.6 L1030.0,776.6 L1032.1,778.6 L1034.1,780.7 L1036.2,782.8 L1038.1,785.0 L1040.0,787.2 L1041.9,789.5 L1043.7,791.9 L1045.5,794.2 L1047.2,796.7 L1048.9,799.1 L1050.5,801.6 L1052.1,804.2 L1053.7,806.7 L1055.2,809.3 L1056.6,812.0 L1058.1,814.6 L1059.5,817.3 L1060.8,820.0 L1062.2,822.8 L1063.5,825.5 L1064.8,828.3 L1066.0,831.0 L1067.2,833.8 L1068.4,836.6 L1069.5,839.4 L1070.7,842.2 L1071.8,845.1 L1072.9,847.9 L1073.9,850.7 L1075.0,853.6 L1076.0,856.4 L1077.0,859.3 L1077.9,862.1 L1078.9,865.0 L1079.8,867.9 L1080.7,870.8 L1081.6,873.7 L1082.4,876.5 L1083.3,879.4 L1084.1,882.3 L1084.9,885.3 L1085.7,888.2 L1086.4,891.1 L1087.2,894.0 L1087.9,897.0 L1088.6,899.9 L1089.3,902.8 L1090.0,905.8 L1090.7,908.7 L1091.3,911.7 L1091.9,914.6 L1092.6,917.6 L1093.2,920.6 L1093.8,923.5 L1094.4,926.5 L1094.9,929.5 L1095.5,932.5 L1096.0,935.4 L1096.6,938.4 L1097.1,941.4 L1097.6,944.4 L1098.1,947.4 L1098.6,950.4 L1099.1,953.4 L1099.6,956.4 L1100.1,959.4 L1100.5,962.4 L1101.0,965.4 L1101.4,968.4 L1101.9,971.4 L1102.3,974.4 L1102.8,977.4 L1103.2,980.4 L1103.6,983.4 L1104.0,986.4 L1104.5,989.5 L1104.9,992.5 L1105.3,995.5 L1105.7,998.5 L1106.1,1001.5 L1106.5,1004.5 L1107.0,1007.5 L1107.4,1010.5 L1107.8,1013.5 L1108.2,1016.5 L1108.6,1019.5 L1109.0,1022.5 L1109.5,1025.5 L1109.9,1028.5 L1110.3,1031.5 L1110.7,1034.5 L1111.2,1037.5 L1111.6,1040.5 L1112.1,1043.5 L1112.5,1046.5 L1113.0,1049.5 L1113.4,1052.4 L1113.9,1055.4 L1114.4,1058.4 L1114.9,1061.4 L1115.4,1064.3 L1115.9,1067.3 L1116.4,1070.2 L1116.9,1073.2 L1117.4,1076.2 L1118.0,1079.1 L1118.5,1082.0 L1119.1,1085.0 L1119.7,1087.9 L1120.3,1090.8 L1120.9,1093.8 L1121.5,1096.7 L1122.1,1099.6" stroke="#1212ff" stroke-width="3.4" fill="none" stroke-linejoin="round" stroke-linecap="round"/>
<path d="M1122.1,1099.6 C1123.2,1102.5 1126.8,1112.6 1129.0,1116.8 C1131.2,1121.0 1135.6,1122.8 1135.0,1124.5 C1134.4,1126.2 1127.1,1123.4 1125.5,1127.0 C1123.9,1130.6 1124.9,1140.0 1125.5,1146.0 C1126.1,1152.0 1128.1,1157.9 1129.0,1163.1 C1129.9,1168.2 1129.9,1169.5 1130.7,1176.9 C1131.5,1184.3 1132.2,1199.4 1133.7,1207.5 C1135.2,1215.6 1137.9,1219.6 1139.8,1225.3 C1141.7,1231.0 1144.0,1236.5 1145.3,1241.8 C1146.6,1247.1 1146.0,1252.1 1147.4,1256.9 C1148.8,1261.7 1150.7,1266.4 1153.6,1270.7 C1156.5,1275.0 1159.8,1280.0 1164.6,1283.0 C1169.4,1286.0 1176.2,1287.2 1182.4,1288.5 C1188.6,1289.8 1196.3,1290.7 1201.6,1290.6 C1206.9,1290.5 1211.9,1288.3 1214.0,1287.8" stroke="#1212ff" stroke-width="3.4" fill="none" stroke-linejoin="round" stroke-linecap="round"/>
<path d="M734.3,766.5 L737.3,766.4 L740.3,766.3 L743.3,766.2 L746.3,766.1 L749.3,766.0 L752.3,766.0 L755.3,765.9 L758.3,765.8 L761.3,765.8 L764.4,765.8 L767.4,765.7 L770.4,765.7 L773.4,765.7 L776.4,765.7 L779.4,765.7 L782.4,765.7 L785.4,765.7 L788.5,765.8 L791.5,765.8 L794.5,765.8 L797.5,765.9 L800.5,765.9 L803.6,766.0 L806.6,766.0 L809.6,766.1 L812.6,766.1 L815.6,766.2 L818.7,766.2 L821.7,766.3 L824.7,766.4 L827.7,766.4 L830.8,766.5 L833.8,766.5 L836.8,766.6 L839.8,766.7 L842.9,766.7 L845.9,766.8 L848.9,766.9 L851.9,766.9 L855.0,767.0 L858.0,767.1 L861.0,767.1 L864.1,767.2 L867.1,767.2 L870.1,767.3 L873.1,767.3 L876.2,767.3 L879.2,767.4 L882.2,767.4 L885.2,767.4 L888.3,767.4 L891.3,767.5 L894.3,767.5 L897.3,767.5 L900.4,767.5 L903.4,767.4 L906.4,767.4 L909.4,767.4 L912.5,767.3 L915.5,767.3 L918.5,767.2 L921.5,767.2 L924.5,767.1 L927.6,767.0 L930.6,766.9 L933.6,766.8 L936.6,766.7 L939.6,766.6 L942.7,766.4 L945.7,766.3 L948.7,766.1 L951.7,765.9 L954.7,765.7 L957.7,765.5 L960.7,765.3 L963.7,765.1 L966.8,764.8 L969.8,764.5 L972.8,764.3 L975.8,764.0 L978.8,763.7 L981.8,763.3 L984.8,763.0 L987.8,762.6 L990.8,762.3 L993.8,761.9 L996.8,761.5 L999.8,761.1 L1002.7,760.6 L1005.7,760.2 L1008.7,759.7 L1011.7,759.2 L1014.7,758.7 L1017.6,758.2 L1020.6,757.6 L1023.6,757.1 L1026.5,756.5 L1029.5,755.9 L1032.4,755.3 L1035.4,754.7 L1038.3,754.0 L1041.3,753.4 L1044.2,752.7 L1047.1,752.0 L1050.0,751.3 L1053.0,750.5 L1055.9,749.8 L1058.8,749.0 L1061.7,748.2 L1064.6,747.4 L1067.5,746.6 L1070.3,745.7 L1073.2,744.9 L1076.1,744.0 L1078.9,743.1 L1081.8,742.1 L1084.7,741.2 L1087.5,740.2 L1090.3,739.2 L1093.1,738.2 L1096.0,737.2 L1098.8,736.2 L1101.6,735.1 L1104.4,734.0 L1107.1,732.9 L1109.9,731.8 L1112.7,730.6 L1115.4,729.5 L1118.2,728.3 L1120.9,727.1 L1123.7,725.8 L1126.4,724.6 L1129.1,723.3 L1131.8,722.0 L1134.5,720.7 L1137.1,719.4 L1139.8,718.0 L1142.5,716.6 L1145.1,715.2 L1147.7,713.8 L1150.4,712.3 L1153.0,710.9 L1155.6,709.4 L1158.2,707.9 L1160.7,706.3 L1163.3,704.8 L1165.9,703.2 L1168.4,701.6 L1170.9,699.9 L1173.5,698.3 L1176.0,696.6 L1178.4,694.9 L1180.9,693.2 L1183.4,691.4 L1185.8,689.7 L1188.3,687.9 L1190.7,686.0 L1193.1,684.2 L1195.5,682.3 L1197.9,680.5 L1200.3,678.6 L1202.6,676.7 L1205.0,674.7 L1207.4,672.8 L1209.7,670.9 L1212.1,668.9 L1214.4,667.0 L1216.8,665.0 L1219.1,663.1 L1221.5,661.2 L1223.8,659.2 L1226.2,657.3 L1228.5,655.4 L1230.9,653.5 L1233.3,651.6 L1235.7,649.7 L1238.0,647.9 L1240.5,646.0 L1242.9,644.2 L1245.3,642.4 L1247.7,640.7 L1250.2,638.9 L1252.7,637.2 L1255.2,635.6 L1257.7,633.9 L1260.2,632.3 L1262.8,630.8 L1265.4,629.3 L1268.0,627.8 L1270.6,626.4 L1273.2,625.0 L1275.9,623.7 L1278.6,622.4 L1281.4,621.2 L1284.1,620.0 L1286.9,618.9 L1289.8,617.9 L1292.6,616.9 L1295.5,615.9 L1298.4,615.0 L1301.3,614.1 L1304.2,613.2 L1307.2,612.3 L1310.1,611.3 L1313.0,610.4 L1315.8,609.4 L1318.7,608.3 L1321.5,607.3 L1324.3,606.1 L1327.1,604.9 L1329.8,603.6 L1332.5,602.3 L1335.2,601.0 L1337.8,599.6 L1340.5,598.1 L1343.1,596.6 L1345.6,595.1 L1348.2,593.5 L1350.7,591.8 L1353.2,590.2 L1355.7,588.4 L1358.1,586.7 L1360.6,584.9 L1363.0,583.1 L1365.4,581.2 L1367.8,579.4 L1370.1,577.5 L1372.5,575.5 L1374.8,573.6 L1377.1,571.7 L1379.5,569.7 L1381.8,567.7 L1384.1,565.7 L1386.3,563.7 L1388.6,561.7 L1390.9,559.7 L1393.2,557.7 L1395.4,555.7 L1397.7,553.6 L1400.0,551.6 L1402.2,549.6 L1404.4,547.5 L1406.6,545.4 L1408.8,543.4 L1411.0,541.3 L1413.2,539.2 L1415.4,537.1 L1417.6,535.0 L1419.7,532.9 L1421.8,530.8 L1423.9,528.6 L1426.0,526.5 L1428.1,524.3 L1430.1,522.1 L1432.2,519.9 L1434.2,517.7 L1436.2,515.5 L1438.2,513.2 L1440.1,511.0 L1442.0,508.7 L1443.9,506.4 L1445.8,504.1 L1447.7,501.7 L1449.5,499.4 L1451.3,497.0 L1453.1,494.6 L1454.8,492.2 L1456.5,489.8 L1458.2,487.3 L1459.9,484.8 L1461.5,482.3 L1463.1,479.8 L1464.6,477.2 L1466.2,474.6 L1467.6,472.0 L1469.1,469.4 L1470.5,466.7 L1471.9,464.0 L1473.3,461.3 L1474.6,458.6 L1475.9,455.9 L1477.2,453.1 L1478.5,450.4 L1479.7,447.6 L1480.9,444.8 L1482.1,442.0 L1483.2,439.1 L1484.3,436.3 L1485.5,433.5 L1486.5,430.6 L1487.6,427.7 L1488.7,424.9 L1489.7,422.0 L1490.7,419.1 L1491.7,416.2 L1492.7,413.3 L1493.6,410.4 L1494.6,407.5 L1495.5,404.6 L1496.4,401.8 L1497.3,398.9 L1498.2,396.0 L1499.1,393.1 L1500.0,390.2 L1500.8,387.3 L1501.7,384.5 L1502.6,381.6 L1503.4,378.8 L1504.2,375.9 L1505.1,373.1 L1505.9,370.3 L1506.7,367.5" stroke="#11908b" stroke-width="3.4" fill="none" stroke-linejoin="round" stroke-linecap="round"/>
<path d="M900.0,768.0 L903.0,767.9 L906.1,767.9 L909.1,767.9 L912.2,767.9 L915.2,768.0 L918.2,768.1 L921.2,768.2 L924.2,768.3 L927.2,768.4 L930.2,768.6 L933.2,768.8 L936.2,768.9 L939.2,769.2 L942.2,769.4 L945.2,769.6 L948.2,769.9 L951.1,770.1 L954.1,770.4 L957.1,770.7 L960.1,771.0 L963.1,771.3 L966.1,771.6 L969.0,771.9 L972.0,772.2 L975.0,772.6 L978.0,772.9 L981.0,773.2 L984.0,773.5 L987.0,773.9 L990.0,774.2 L993.0,774.5 L996.0,774.8 L999.0,775.2 L1002.1,775.5 L1005.1,775.8 L1008.1,776.1 L1011.1,776.4 L1014.2,776.8 L1017.2,777.1 L1020.2,777.5 L1023.2,777.9 L1026.2,778.4 L1029.2,778.8 L1032.2,779.4 L1035.2,779.9 L1038.1,780.5 L1041.1,781.1 L1044.0,781.8 L1046.9,782.6 L1049.8,783.4 L1052.7,784.2 L1055.6,785.2 L1058.4,786.2 L1061.1,787.3 L1063.8,788.4 L1066.5,789.7 L1069.1,791.0 L1071.7,792.4 L1074.2,793.9 L1076.6,795.5 L1078.9,797.2 L1081.2,799.1 L1083.4,801.0 L1085.5,803.0 L1087.5,805.2 L1089.4,807.4 L1091.3,809.7 L1093.0,812.1 L1094.7,814.6 L1096.4,817.2 L1098.0,819.8 L1099.5,822.4 L1101.0,825.1 L1102.4,827.8 L1103.7,830.6 L1105.0,833.3 L1106.3,836.1 L1107.4,838.9 L1108.6,841.8 L1109.7,844.6 L1110.7,847.5 L1111.7,850.3 L1112.6,853.2 L1113.5,856.0 L1114.4,858.9 L1115.2,861.8 L1116.0,864.7 L1116.8,867.6 L1117.5,870.4 L1118.2,873.4 L1118.9,876.3 L1119.6,879.2 L1120.2,882.1 L1120.9,885.0 L1121.5,887.9 L1122.1,890.9 L1122.7,893.8 L1123.3,896.7 L1123.9,899.7 L1124.5,902.6 L1125.1,905.6 L1125.6,908.6 L1126.1,911.5 L1126.7,914.5 L1127.2,917.4 L1127.7,920.4 L1128.2,923.4 L1128.7,926.4 L1129.2,929.4 L1129.7,932.3 L1130.1,935.3 L1130.6,938.3 L1131.0,941.3 L1131.5,944.3 L1131.9,947.3 L1132.3,950.3 L1132.7,953.3 L1133.1,956.3 L1133.5,959.2 L1133.9,962.2 L1134.2,965.2 L1134.6,968.2 L1134.9,971.2 L1135.3,974.2 L1135.6,977.2 L1136.0,980.2 L1136.3,983.2 L1136.6,986.2 L1136.9,989.2 L1137.2,992.2 L1137.5,995.2 L1137.8,998.2 L1138.1,1001.2 L1138.4,1004.2 L1138.7,1007.2 L1139.0,1010.2 L1139.3,1013.2 L1139.6,1016.1 L1139.9,1019.1 L1140.2,1022.1 L1140.5,1025.1 L1140.8,1028.1 L1141.2,1031.1 L1141.5,1034.1 L1141.8,1037.1 L1142.2,1040.1 L1142.5,1043.0 L1142.9,1046.0 L1143.3,1049.0 L1143.7,1052.0 L1144.1,1055.0 L1144.5,1057.9 L1145.0,1060.9 L1145.4,1063.9 L1145.9,1066.9 L1146.4,1069.9 L1146.9,1072.8 L1147.4,1075.8 L1148.0,1078.8 L1148.5,1081.8 L1149.1,1084.7 L1149.7,1087.7 L1150.3,1090.6 L1150.9,1093.6 L1151.5,1096.6 L1152.2,1099.5 L1152.8,1102.4 L1153.5,1105.4 L1154.1,1108.3 L1154.8,1111.2 L1155.5,1114.1 L1156.1,1117.0 L1156.8,1119.9 L1157.5,1122.8 L1158.2,1125.7 L1158.9,1128.6 L1159.6,1131.4 L1160.2,1134.3 L1160.9,1137.2 L1161.6,1140.0 L1162.3,1142.9 L1162.9,1145.8 L1163.6,1148.7 L1164.2,1151.6 L1164.9,1154.5 L1165.5,1157.5 L1166.1,1160.4 L1166.8,1163.4 L1167.4,1166.4 L1168.0,1169.4 L1168.6,1172.4 L1169.2,1175.4 L1169.8,1178.4 L1170.4,1181.4 L1171.0,1184.5 L1171.7,1187.5 L1172.3,1190.5 L1173.0,1193.5 L1173.7,1196.6 L1174.5,1199.5 L1175.2,1202.5 L1176.0,1205.5 L1176.9,1208.4 L1177.8,1211.3 L1178.7,1214.2 L1179.7,1217.0 L1180.8,1219.8 L1181.8,1222.6 L1183.0,1225.4 L1184.2,1228.1 L1185.5,1230.7 L1186.9,1233.3 L1188.3,1235.9 L1189.8,1238.4 L1191.4,1240.8 L1193.1,1243.2 L1194.9,1245.5 L1196.7,1247.7 L1198.7,1249.9 L1200.7,1252.0 L1202.8,1254.1 L1205.1,1256.0 L1207.4,1257.9 L1209.7,1259.7 L1212.2,1261.5 L1214.7,1263.1 L1217.2,1264.7 L1219.9,1266.1 L1222.6,1267.5 L1225.3,1268.8 L1228.1,1270.0 L1230.9,1271.1 L1233.8,1272.1 L1236.7,1273.0 L1239.6,1273.8 L1242.5,1274.5 L1245.5,1275.1 L1248.5,1275.6 L1251.5,1276.0 L1254.5,1276.3 L1257.5,1276.5 L1260.5,1276.5 L1263.5,1276.4 L1266.6,1276.2 L1269.5,1275.9 L1272.5,1275.5 L1275.5,1274.9 L1278.4,1274.2 L1281.3,1273.4" stroke="#11908b" stroke-width="3.4" fill="none" stroke-linejoin="round" stroke-linecap="round"/>
<path d="M386.0,2064.8 C438.3,2064.9 639.5,2065.2 700.0,2065.2 C760.5,2065.2 735.9,2065.6 749.0,2064.8 C762.1,2064.0 769.8,2062.1 778.9,2060.4 C788.0,2058.7 795.4,2056.4 803.6,2054.8 C811.9,2053.2 821.5,2052.5 828.4,2051.1 C835.3,2049.7 839.7,2048.1 845.0,2046.5 C850.3,2044.9 855.1,2043.2 860.0,2041.3 C864.9,2039.4 869.3,2037.1 874.3,2035.2 C879.2,2033.3 886.2,2031.4 889.7,2029.7 C893.2,2028.0 891.9,2027.0 895.2,2025.3 C898.5,2023.6 905.5,2021.3 909.5,2019.8 C913.5,2018.3 917.1,2018.3 919.3,2016.5 C921.5,2014.7 920.6,2011.0 922.6,2008.8 C924.6,2006.6 928.5,2004.9 931.4,2003.3 C934.3,2001.7 936.9,1999.5 940.2,1998.9 C943.5,1998.4 949.0,2000.9 951.2,2000.0 C953.4,1999.1 953.0,1994.5 953.4,1993.4" stroke="#161616" stroke-width="3.4" fill="none" stroke-linejoin="round" stroke-linecap="round"/>
<path d="M953.4,1993.4 L955.0,1990.8 L956.6,1988.2 L958.2,1985.5 L959.8,1982.9 L961.3,1980.3 L962.8,1977.6 L964.3,1975.0 L965.8,1972.3 L967.3,1969.7 L968.7,1967.0 L970.2,1964.3 L971.6,1961.7 L972.9,1959.0 L974.3,1956.3 L975.7,1953.6 L977.0,1950.9 L978.3,1948.2 L979.6,1945.5 L980.9,1942.8 L982.1,1940.1 L983.4,1937.3 L984.6,1934.6 L985.8,1931.9 L987.0,1929.1 L988.1,1926.4 L989.3,1923.6 L990.4,1920.9 L991.6,1918.1 L992.7,1915.3 L993.7,1912.6 L994.8,1909.8 L995.9,1907.0 L996.9,1904.2 L997.9,1901.4 L999.0,1898.6 L1000.0,1895.8 L1001.0,1893.0 L1002.0,1890.2 L1003.0,1887.4 L1003.9,1884.6 L1004.9,1881.8 L1005.9,1879.0 L1006.9,1876.2 L1007.9,1873.4 L1008.9,1870.6 L1009.9,1867.8 L1010.9,1865.0 L1011.9,1862.2 L1012.9,1859.4 L1013.9,1856.6 L1014.9,1853.8 L1016.0,1851.0 L1017.0,1848.3 L1018.1,1845.5 L1019.1,1842.7 L1020.1,1839.9 L1021.2,1837.1 L1022.2,1834.4 L1023.3,1831.6 L1024.3,1828.8 L1025.4,1826.0 L1026.4,1823.2 L1027.4,1820.4 L1028.5,1817.6 L1029.5,1814.8 L1030.5,1812.0 L1031.5,1809.2 L1032.5,1806.4 L1033.6,1803.6 L1034.6,1800.8 L1035.6,1797.9 L1036.6,1795.1 L1037.6,1792.3 L1038.7,1789.5 L1039.7,1786.7 L1040.7,1783.8 L1041.7,1781.0 L1042.8,1778.2 L1043.8,1775.4 L1044.9,1772.6 L1045.9,1769.7 L1047.0,1766.9 L1048.0,1764.1 L1049.1,1761.3 L1050.2,1758.5 L1051.3,1755.7 L1052.4,1752.9 L1053.5,1750.0 L1054.6,1747.2 L1055.7,1744.4 L1056.9,1741.6 L1058.0,1738.8 L1059.2,1736.1 L1060.4,1733.3 L1061.5,1730.5 L1062.7,1727.7 L1063.9,1724.9 L1065.1,1722.1 L1066.3,1719.3 L1067.5,1716.6 L1068.8,1713.8 L1070.0,1711.0 L1071.2,1708.2 L1072.4,1705.4 L1073.6,1702.7 L1074.8,1699.9 L1075.9,1697.1 L1077.1,1694.3 L1078.3,1691.5 L1079.4,1688.7 L1080.6,1685.9 L1081.7,1683.0 L1082.8,1680.2 L1083.8,1677.4 L1084.9,1674.5 L1085.9,1671.7 L1086.9,1668.8 L1087.9,1666.0 L1088.8,1663.1 L1089.8,1660.2 L1090.6,1657.3 L1091.5,1654.4" stroke="#161616" stroke-width="3.4" fill="none" stroke-linejoin="round" stroke-linecap="round"/>
<path d="M740.0,2066.0 L742.9,2066.5 L745.9,2067.0 L748.8,2067.4 L751.8,2067.8 L754.7,2068.2 L757.7,2068.5 L760.7,2068.8 L763.7,2069.2 L766.7,2069.5 L769.7,2069.8 L772.7,2070.0 L775.7,2070.3 L778.8,2070.5 L781.8,2070.8 L784.8,2071.0 L787.8,2071.3 L790.9,2071.5 L793.9,2071.8 L796.9,2072.0 L800.0,2072.3 L803.0,2072.5 L806.0,2072.8 L809.1,2073.0 L812.1,2073.3 L815.1,2073.6 L818.1,2074.0 L821.1,2074.3 L824.1,2074.7 L827.1,2075.0 L830.1,2075.4 L833.1,2075.9 L836.1,2076.3 L839.1,2076.8 L842.0,2077.4 L845.0,2077.9 L847.9,2078.5 L850.8,2079.1 L853.8,2079.8 L856.7,2080.5 L859.5,2081.3 L862.4,2082.1 L865.3,2082.9 L868.1,2083.8 L871.0,2084.8 L873.8,2085.8 L876.6,2086.9 L879.3,2088.0 L882.1,2089.2 L884.8,2090.4 L887.6,2091.7 L890.3,2093.1 L892.9,2094.5 L895.6,2096.0 L898.2,2097.5 L900.8,2099.1 L903.4,2100.7 L905.9,2102.4 L908.4,2104.1 L910.9,2105.9 L913.3,2107.8 L915.8,2109.6 L918.1,2111.6 L920.5,2113.5 L922.8,2115.5 L925.0,2117.6 L927.2,2119.7 L929.4,2121.8 L931.5,2124.0 L933.6,2126.2 L935.6,2128.5 L937.6,2130.8 L939.6,2133.1 L941.5,2135.4 L943.3,2137.8 L945.1,2140.2 L946.9,2142.7 L948.6,2145.1 L950.2,2147.6 L951.9,2150.1 L953.5,2152.7 L955.0,2155.2 L956.5,2157.8 L958.0,2160.4 L959.5,2163.0 L961.0,2165.7 L962.4,2168.3 L963.8,2171.0 L965.2,2173.7 L966.5,2176.3 L967.9,2179.0 L969.2,2181.7 L970.5,2184.5 L971.8,2187.2 L973.1,2189.9 L974.4,2192.6 L975.7,2195.4 L977.0,2198.1 L978.3,2200.8 L979.6,2203.6 L980.9,2206.3 L982.2,2209.1 L983.4,2211.8 L984.7,2214.6 L985.9,2217.3 L987.2,2220.1 L988.4,2222.9 L989.7,2225.6 L990.9,2228.4 L992.1,2231.2 L993.4,2233.9 L994.6,2236.7 L995.8,2239.5 L997.0,2242.3 L998.2,2245.1 L999.4,2247.8 L1000.5,2250.6 L1001.7,2253.4 L1002.9,2256.2 L1004.0,2259.0 L1005.2,2261.8 L1006.3,2264.6 L1007.4,2267.4 L1008.5,2270.3 L1009.6,2273.1 L1010.7,2275.9 L1011.8,2278.7 L1012.9,2281.5 L1013.9,2284.4 L1015.0,2287.2 L1016.0,2290.0 L1017.1,2292.9 L1018.1,2295.7 L1019.1,2298.6 L1020.1,2301.4 L1021.1,2304.3 L1022.1,2307.1 L1023.0,2310.0 L1024.0,2312.8 L1024.9,2315.7 L1025.8,2318.6 L1026.7,2321.4 L1027.6,2324.3 L1028.5,2327.2 L1029.4,2330.1 L1030.2,2333.0 L1031.1,2335.9 L1032.0,2338.7 L1032.8,2341.6 L1033.6,2344.5 L1034.5,2347.4 L1035.3,2350.3 L1036.1,2353.2 L1037.0,2356.1 L1037.8,2359.0 L1038.7,2361.9 L1039.5,2364.9 L1040.4,2367.8 L1041.3,2370.7 L1042.1,2373.6 L1043.0,2376.5 L1043.9,2379.4 L1044.9,2382.3 L1045.8,2385.2 L1046.8,2388.2 L1047.7,2391.1 L1048.7,2394.0 L1049.8,2396.9 L1050.8,2399.8 L1051.9,2402.6 L1053.1,2405.4 L1054.4,2408.1 L1055.7,2410.8 L1057.1,2413.3 L1058.6,2415.8 L1060.2,2418.1 L1061.9,2420.3 L1063.8,2422.3 L1065.8,2424.2 L1067.9,2425.9 L1070.2,2427.4 L1072.6,2428.6 L1075.2,2429.7 L1077.9,2430.4 L1080.8,2430.9 L1083.8,2431.1 L1087.0,2430.9 L1090.3,2430.5 L1093.8,2429.6" stroke="#161616" stroke-width="3.4" fill="none" stroke-linejoin="round" stroke-linecap="round"/>
<path d="M458.2,2146.5 L461.2,2146.5 L464.3,2146.5 L467.3,2146.5 L470.3,2146.5 L473.4,2146.5 L476.4,2146.5 L479.4,2146.5 L482.5,2146.5 L485.5,2146.5 L488.5,2146.5 L491.5,2146.5 L494.5,2146.5 L497.6,2146.5 L500.6,2146.5 L503.6,2146.5 L506.6,2146.5 L509.6,2146.5 L512.7,2146.4 L515.7,2146.4 L518.7,2146.4 L521.7,2146.4 L524.7,2146.4 L527.7,2146.4 L530.7,2146.4 L533.7,2146.4 L536.8,2146.4 L539.8,2146.4 L542.8,2146.4 L545.8,2146.3 L548.8,2146.3 L551.8,2146.3 L554.8,2146.3 L557.8,2146.3 L560.8,2146.3 L563.8,2146.3 L566.8,2146.3 L569.8,2146.3 L572.8,2146.2 L575.8,2146.2 L578.8,2146.2 L581.8,2146.2 L584.9,2146.2 L587.9,2146.2 L590.9,2146.2 L593.9,2146.2 L596.9,2146.2 L599.9,2146.2 L602.9,2146.1 L605.9,2146.1 L608.9,2146.1 L611.9,2146.1 L614.9,2146.1 L617.9,2146.1 L620.9,2146.1 L623.9,2146.1 L626.9,2146.1 L629.9,2146.1 L632.9,2146.1 L635.9,2146.1 L639.0,2146.1 L642.0,2146.1 L645.0,2146.1 L648.0,2146.1 L651.0,2146.1 L654.0,2146.1 L657.0,2146.1 L660.0,2146.1 L663.1,2146.1 L666.1,2146.1 L669.1,2146.1 L672.1,2146.1 L675.1,2146.1 L678.1,2146.1 L681.2,2146.1 L684.2,2146.1 L687.2,2146.1 L690.2,2146.1 L693.3,2146.1 L696.3,2146.1 L699.3,2146.1 L702.3,2146.1 L705.4,2146.1 L708.4,2146.2 L711.4,2146.2 L714.5,2146.2 L717.5,2146.2 L720.5,2146.1 L723.5,2146.1 L726.6,2146.1 L729.6,2146.1 L732.6,2146.1 L735.7,2146.1 L738.7,2146.0 L741.7,2146.0 L744.8,2145.9 L747.8,2145.9 L750.8,2145.8 L753.8,2145.8 L756.9,2145.7 L759.9,2145.6 L762.9,2145.5 L765.9,2145.5 L769.0,2145.4 L772.0,2145.2 L775.0,2145.1 L778.0,2145.0 L781.0,2144.9 L784.1,2144.7 L787.1,2144.5 L790.1,2144.4 L793.1,2144.2 L796.1,2144.0 L799.1,2143.8 L802.1,2143.6 L805.1,2143.3 L808.1,2143.1 L811.1,2142.8 L814.1,2142.5 L817.1,2142.3 L820.1,2142.0 L823.1,2141.6 L826.1,2141.3 L829.1,2141.0 L832.0,2140.6 L835.0,2140.2 L838.0,2139.8 L841.0,2139.4 L843.9,2139.0 L846.9,2138.5 L849.9,2138.0 L852.8,2137.6 L855.8,2137.0 L858.7,2136.5 L861.7,2136.0 L864.6,2135.4 L867.6,2134.8 L870.5,2134.2 L873.5,2133.6 L876.4,2132.9 L879.3,2132.3 L882.2,2131.6 L885.2,2130.9 L888.1,2130.1 L891.0,2129.4 L893.9,2128.6 L896.8,2127.8 L899.7,2126.9 L902.6,2126.1 L905.5,2125.2 L908.3,2124.3 L911.2,2123.4 L914.1,2122.4 L916.9,2121.4 L919.8,2120.4 L922.6,2119.4 L925.5,2118.3 L928.3,2117.2 L931.1,2116.1 L933.9,2115.0 L936.7,2113.8 L939.5,2112.6 L942.2,2111.4 L945.0,2110.1 L947.7,2108.8 L950.4,2107.5 L953.1,2106.2 L955.8,2104.8 L958.5,2103.4 L961.1,2101.9 L963.8,2100.5 L966.4,2099.0 L969.0,2097.5 L971.5,2095.9 L974.1,2094.3 L976.6,2092.7 L979.1,2091.1 L981.5,2089.4 L984.0,2087.7 L986.4,2085.9 L988.8,2084.1 L991.2,2082.3 L993.5,2080.5 L995.8,2078.6 L998.1,2076.7 L1000.3,2074.8 L1002.6,2072.8 L1004.7,2070.8 L1006.9,2068.7 L1009.0,2066.7 L1011.1,2064.5 L1013.2,2062.4 L1015.2,2060.2 L1017.3,2058.0 L1019.2,2055.8 L1021.2,2053.6 L1023.2,2051.3 L1025.1,2049.0 L1027.0,2046.7 L1028.9,2044.3 L1030.7,2042.0 L1032.5,2039.6 L1034.4,2037.2 L1036.2,2034.8 L1038.0,2032.4 L1039.7,2029.9 L1041.5,2027.4 L1043.2,2025.0 L1045.0,2022.5 L1046.7,2020.0 L1048.4,2017.5 L1050.1,2014.9 L1051.8,2012.4 L1053.4,2009.9 L1055.1,2007.3 L1056.8,2004.8 L1058.4,2002.3 L1060.1,1999.7 L1061.7,1997.2 L1063.4,1994.6 L1065.0,1992.1 L1066.6,1989.5 L1068.3,1987.0 L1069.9,1984.4 L1071.6,1981.9 L1073.2,1979.3 L1074.9,1976.8 L1076.5,1974.3 L1078.1,1971.8 L1079.8,1969.2 L1081.4,1966.7 L1083.1,1964.2 L1084.7,1961.7 L1086.3,1959.2 L1088.0,1956.7 L1089.6,1954.2 L1091.2,1951.7 L1092.9,1949.1 L1094.5,1946.6 L1096.1,1944.1 L1097.7,1941.6 L1099.3,1939.1 L1100.9,1936.6 L1102.5,1934.1 L1104.1,1931.5 L1105.7,1929.0 L1107.3,1926.5 L1108.9,1924.0 L1110.4,1921.4 L1112.0,1918.9 L1113.5,1916.3 L1115.1,1913.8 L1116.6,1911.2 L1118.1,1908.7 L1119.6,1906.1 L1121.1,1903.5 L1122.6,1900.9 L1124.1,1898.3 L1125.5,1895.7 L1127.0,1893.1 L1128.4,1890.5 L1129.8,1887.8 L1131.2,1885.2 L1132.6,1882.5 L1134.0,1879.9 L1135.4,1877.2 L1136.8,1874.5 L1138.1,1871.8 L1139.5,1869.1 L1140.8,1866.4 L1142.2,1863.7 L1143.5,1861.0 L1144.9,1858.3 L1146.2,1855.7 L1147.6,1853.0 L1148.9,1850.3 L1150.3,1847.6 L1151.7,1844.9 L1153.0,1842.2 L1154.4,1839.5 L1155.8,1836.9 L1157.2,1834.2 L1158.6,1831.5 L1160.1,1828.9 L1161.5,1826.3 L1163.0,1823.7 L1164.4,1821.0 L1165.9,1818.5 L1167.5,1815.9 L1169.0,1813.3 L1170.6,1810.8 L1172.2,1808.2 L1173.8,1805.7 L1175.4,1803.2 L1177.1,1800.8 L1178.8,1798.3 L1180.5,1795.9 L1182.3,1793.5" stroke="#ff1c1c" stroke-width="3.4" fill="none" stroke-linejoin="round" stroke-linecap="round"/>
<path d="M780.0,2146.0 L783.1,2146.3 L786.2,2146.6 L789.3,2146.9 L792.3,2147.2 L795.3,2147.5 L798.4,2147.8 L801.4,2148.1 L804.4,2148.4 L807.3,2148.8 L810.3,2149.2 L813.3,2149.5 L816.2,2149.9 L819.2,2150.3 L822.2,2150.7 L825.1,2151.1 L828.0,2151.5 L831.0,2151.9 L833.9,2152.3 L836.9,2152.8 L839.8,2153.2 L842.8,2153.7 L845.7,2154.2 L848.7,2154.7 L851.7,2155.2 L854.7,2155.7 L857.7,2156.2 L860.7,2156.7 L863.7,2157.2 L866.7,2157.8 L869.7,2158.4 L872.8,2158.9 L875.8,2159.5 L878.8,2160.2 L881.8,2160.8 L884.9,2161.5 L887.9,2162.2 L890.9,2163.0 L893.8,2163.8 L896.8,2164.6 L899.8,2165.5 L902.7,2166.4 L905.6,2167.3 L908.5,2168.3 L911.3,2169.4 L914.1,2170.5 L916.9,2171.7 L919.6,2172.9 L922.3,2174.2 L925.0,2175.5 L927.6,2177.0 L930.2,2178.5 L932.7,2180.0 L935.1,2181.6 L937.6,2183.3 L939.9,2185.1 L942.2,2187.0 L944.5,2188.9 L946.7,2190.8 L948.9,2192.8 L951.0,2194.9 L953.1,2197.0 L955.1,2199.2 L957.1,2201.4 L959.1,2203.7 L961.0,2206.0 L962.9,2208.4 L964.7,2210.8 L966.5,2213.2 L968.3,2215.7 L970.1,2218.2 L971.8,2220.7 L973.4,2223.3 L975.1,2225.8 L976.7,2228.4 L978.3,2231.1 L979.8,2233.7 L981.3,2236.3 L982.9,2239.0 L984.3,2241.6 L985.8,2244.3 L987.2,2247.0 L988.6,2249.7 L990.0,2252.4 L991.4,2255.1 L992.7,2257.8 L994.0,2260.6 L995.3,2263.3 L996.6,2266.0 L997.9,2268.8 L999.1,2271.6 L1000.3,2274.3 L1001.5,2277.1 L1002.7,2279.9 L1003.9,2282.7 L1005.1,2285.4 L1006.2,2288.2 L1007.4,2291.0 L1008.5,2293.8 L1009.6,2296.7 L1010.7,2299.5 L1011.8,2302.3 L1012.9,2305.1 L1013.9,2307.9 L1015.0,2310.8 L1016.0,2313.6 L1017.1,2316.4 L1018.1,2319.3 L1019.1,2322.1 L1020.2,2324.9 L1021.2,2327.8 L1022.2,2330.6 L1023.1,2333.5 L1024.1,2336.4 L1025.1,2339.2 L1026.1,2342.1 L1027.0,2344.9 L1028.0,2347.8 L1028.9,2350.7 L1029.9,2353.5 L1030.8,2356.4 L1031.7,2359.3 L1032.6,2362.2 L1033.5,2365.1 L1034.4,2367.9 L1035.3,2370.8 L1036.2,2373.7 L1037.1,2376.6 L1038.0,2379.5 L1038.8,2382.4 L1039.7,2385.3 L1040.5,2388.2 L1041.4,2391.1 L1042.2,2394.0 L1043.1,2396.9 L1043.9,2399.8 L1044.8,2402.7 L1045.6,2405.6 L1046.4,2408.6 L1047.2,2411.5 L1048.0,2414.4 L1048.8,2417.3 L1049.6,2420.2 L1050.4,2423.2 L1051.2,2426.1 L1052.0,2429.0 L1052.8,2431.9 L1053.6,2434.9 L1054.4,2437.8 L1055.1,2440.7 L1055.9,2443.7 L1056.7,2446.6 L1057.4,2449.5 L1058.2,2452.5 L1058.9,2455.4 L1059.7,2458.3 L1060.5,2461.3 L1061.2,2464.2 L1062.0,2467.2 L1062.7,2470.1 L1063.5,2473.0 L1064.3,2476.0 L1065.0,2478.9 L1065.8,2481.8 L1066.6,2484.8 L1067.4,2487.7 L1068.2,2490.6 L1069.1,2493.5 L1069.9,2496.4 L1070.8,2499.3 L1071.7,2502.2 L1072.6,2505.1 L1073.6,2508.0 L1074.5,2510.9 L1075.5,2513.8 L1076.5,2516.6 L1077.6,2519.5 L1078.6,2522.3 L1079.7,2525.1 L1080.9,2527.9 L1082.1,2530.7 L1083.3,2533.5 L1084.5,2536.3 L1085.8,2539.0 L1087.2,2541.7 L1088.6,2544.3 L1090.1,2546.9 L1091.7,2549.4 L1093.3,2551.9 L1095.0,2554.2 L1096.9,2556.4 L1098.8,2558.6 L1100.8,2560.6 L1102.9,2562.5 L1105.1,2564.2 L1107.4,2565.9 L1109.9,2567.3 L1112.4,2568.7 L1115.1,2569.9 L1117.8,2571.0 L1120.6,2572.0 L1123.5,2572.9 L1126.5,2573.6 L1129.6,2574.2 L1132.8,2574.6 L1136.0,2575.0" stroke="#ff1c1c" stroke-width="3.4" fill="none" stroke-linejoin="round" stroke-linecap="round"/>
<path d="M495.0,2195.2 L498.0,2195.2 L501.0,2195.2 L504.0,2195.2 L507.0,2195.2 L510.0,2195.2 L513.1,2195.2 L516.1,2195.2 L519.1,2195.2 L522.1,2195.2 L525.1,2195.1 L528.1,2195.1 L531.1,2195.1 L534.1,2195.1 L537.1,2195.1 L540.2,2195.1 L543.2,2195.1 L546.2,2195.1 L549.2,2195.1 L552.2,2195.1 L555.2,2195.1 L558.2,2195.1 L561.2,2195.1 L564.3,2195.1 L567.3,2195.1 L570.3,2195.1 L573.3,2195.1 L576.3,2195.1 L579.3,2195.1 L582.3,2195.1 L585.3,2195.1 L588.3,2195.1 L591.4,2195.1 L594.4,2195.1 L597.4,2195.1 L600.4,2195.1 L603.4,2195.1 L606.4,2195.1 L609.4,2195.1 L612.4,2195.1 L615.5,2195.1 L618.5,2195.1 L621.5,2195.1 L624.5,2195.1 L627.5,2195.1 L630.5,2195.1 L633.5,2195.1 L636.5,2195.1 L639.5,2195.1 L642.5,2195.1 L645.6,2195.1 L648.6,2195.1 L651.6,2195.1 L654.6,2195.1 L657.6,2195.1 L660.6,2195.1 L663.6,2195.1 L666.6,2195.1 L669.6,2195.1 L672.6,2195.1 L675.6,2195.1 L678.6,2195.1 L681.7,2195.1 L684.7,2195.1 L687.7,2195.1 L690.7,2195.1 L693.7,2195.1 L696.7,2195.1 L699.7,2195.1 L702.7,2195.1 L705.7,2195.1 L708.7,2195.0 L711.7,2195.0 L714.7,2195.0 L717.7,2195.0 L720.7,2195.0 L723.7,2195.0 L726.7,2195.0 L729.7,2195.0 L732.7,2195.0 L735.7,2195.0 L738.7,2194.9 L741.7,2194.9 L744.7,2194.9 L747.7,2194.9 L750.7,2194.9 L753.7,2194.9 L756.7,2194.8 L759.7,2194.8 L762.7,2194.8 L765.7,2194.8 L768.6,2194.7 L771.6,2194.7 L774.6,2194.7 L777.6,2194.6 L780.6,2194.6 L783.6,2194.5 L786.6,2194.5 L789.6,2194.4 L792.6,2194.4 L795.6,2194.3 L798.6,2194.2 L801.6,2194.2 L804.6,2194.1 L807.6,2194.0 L810.7,2193.9 L813.7,2193.8 L816.7,2193.7 L819.7,2193.5 L822.7,2193.4 L825.7,2193.3 L828.7,2193.1 L831.7,2193.0 L834.8,2192.8 L837.8,2192.7 L840.8,2192.5 L843.8,2192.3 L846.9,2192.1 L849.9,2191.9 L852.9,2191.7 L856.0,2191.4 L859.0,2191.2 L862.1,2190.9 L865.1,2190.7 L868.1,2190.4 L871.2,2190.1 L874.2,2189.8 L877.3,2189.5 L880.3,2189.2 L883.4,2188.8 L886.4,2188.4 L889.5,2188.1 L892.5,2187.6 L895.5,2187.2 L898.6,2186.8 L901.6,2186.3 L904.6,2185.8 L907.6,2185.3 L910.6,2184.8 L913.6,2184.2 L916.6,2183.7 L919.6,2183.1 L922.6,2182.4 L925.5,2181.8 L928.5,2181.1 L931.4,2180.4 L934.3,2179.6 L937.2,2178.9 L940.1,2178.0 L943.0,2177.2 L945.9,2176.3 L948.8,2175.4 L951.6,2174.5 L954.4,2173.5 L957.2,2172.5 L960.0,2171.5 L962.8,2170.4 L965.5,2169.3 L968.2,2168.1 L970.9,2167.0 L973.6,2165.7 L976.3,2164.4 L978.9,2163.1 L981.5,2161.8 L984.1,2160.4 L986.7,2158.9 L989.2,2157.5 L991.8,2155.9 L994.3,2154.4 L996.7,2152.8 L999.2,2151.1 L1001.6,2149.4 L1004.0,2147.7 L1006.3,2146.0 L1008.6,2144.2 L1010.9,2142.3 L1013.2,2140.5 L1015.4,2138.5 L1017.6,2136.6 L1019.8,2134.6 L1022.0,2132.6 L1024.1,2130.5 L1026.1,2128.4 L1028.2,2126.3 L1030.2,2124.1 L1032.2,2121.9 L1034.1,2119.7 L1036.0,2117.4 L1037.9,2115.1 L1039.7,2112.8 L1041.5,2110.4 L1043.3,2108.0 L1045.0,2105.6 L1046.7,2103.2 L1048.4,2100.7 L1050.1,2098.2 L1051.7,2095.7 L1053.3,2093.1 L1054.8,2090.6 L1056.3,2088.0 L1057.8,2085.4 L1059.3,2082.8 L1060.7,2080.1 L1062.1,2077.5 L1063.5,2074.8 L1064.8,2072.1 L1066.2,2069.4 L1067.5,2066.7 L1068.7,2063.9 L1069.9,2061.2 L1071.2,2058.4 L1072.3,2055.6 L1073.5,2052.8 L1074.6,2050.0 L1075.7,2047.2 L1076.8,2044.4 L1077.9,2041.6 L1078.9,2038.7 L1080.0,2035.9 L1081.0,2033.0 L1082.0,2030.1 L1082.9,2027.2 L1083.9,2024.3 L1084.8,2021.4 L1085.7,2018.5 L1086.6,2015.6 L1087.5,2012.7 L1088.3,2009.8 L1089.1,2006.8 L1090.0,2003.9 L1090.8,2001.0 L1091.6,1998.0 L1092.4,1995.1 L1093.1,1992.1 L1093.9,1989.2 L1094.7,1986.2 L1095.4,1983.2 L1096.1,1980.3 L1096.8,1977.3 L1097.5,1974.4 L1098.2,1971.4 L1098.9,1968.4 L1099.6,1965.5 L1100.3,1962.5 L1101.0,1959.5 L1101.6,1956.6 L1102.3,1953.6 L1102.9,1950.7 L1103.6,1947.7 L1104.2,1944.8 L1104.9,1941.8 L1105.5,1938.8 L1106.1,1935.9 L1106.7,1932.9 L1107.4,1930.0 L1108.0,1927.1 L1108.6,1924.1 L1109.2,1921.2 L1109.8,1918.2 L1110.4,1915.3 L1110.9,1912.3 L1111.5,1909.4 L1112.1,1906.4 L1112.7,1903.5 L1113.3,1900.6 L1113.8,1897.6 L1114.4,1894.7 L1115.0,1891.7 L1115.5,1888.8 L1116.1,1885.9 L1116.6,1882.9 L1117.2,1880.0 L1117.7,1877.0 L1118.3,1874.1 L1118.8,1871.2 L1119.4,1868.2 L1119.9,1865.3 L1120.5,1862.4 L1121.0,1859.4 L1121.6,1856.5 L1122.1,1853.5 L1122.6,1850.6 L1123.2,1847.7 L1123.7,1844.7 L1124.2,1841.8 L1124.8,1838.9 L1125.3,1835.9 L1125.8,1833.0 L1126.4,1830.0 L1126.9,1827.1 L1127.5,1824.2 L1128.0,1821.2 L1128.5,1818.3 L1129.1,1815.3 L1129.6,1812.4 L1130.1,1809.4 L1130.7,1806.5 L1131.2,1803.6 L1131.8,1800.6 L1132.3,1797.7 L1132.9,1794.7 L1133.4,1791.8 L1134.0,1788.8 L1134.5,1785.9 L1135.1,1782.9 L1135.6,1779.9 L1136.2,1777.0 L1136.8,1774.0 L1137.3,1771.1 L1137.9,1768.1 L1138.5,1765.1 L1139.1,1762.2 L1139.6,1759.2 L1140.2,1756.3 L1140.8,1753.3 L1141.4,1750.3 L1142.0,1747.3 L1142.6,1744.4 L1143.2,1741.4 L1143.8,1738.4 L1144.4,1735.4 L1145.1,1732.5 L1145.7,1729.5 L1146.3,1726.5" stroke="#1212ff" stroke-width="3.4" fill="none" stroke-linejoin="round" stroke-linecap="round"/>
<path d="M790.0,2195.2 L793.0,2195.3 L796.0,2195.5 L799.0,2195.6 L802.0,2195.8 L805.1,2195.9 L808.1,2196.1 L811.1,2196.3 L814.1,2196.5 L817.1,2196.7 L820.1,2196.9 L823.2,2197.1 L826.2,2197.3 L829.2,2197.6 L832.2,2197.8 L835.2,2198.0 L838.3,2198.3 L841.3,2198.5 L844.3,2198.8 L847.3,2199.1 L850.3,2199.3 L853.3,2199.6 L856.4,2199.9 L859.4,2200.2 L862.4,2200.4 L865.4,2200.7 L868.4,2201.0 L871.4,2201.3 L874.4,2201.6 L877.4,2201.9 L880.4,2202.2 L883.4,2202.5 L886.4,2202.8 L889.4,2203.1 L892.3,2203.5 L895.3,2203.8 L898.3,2204.2 L901.3,2204.6 L904.3,2205.0 L907.3,2205.4 L910.2,2205.8 L913.2,2206.3 L916.2,2206.8 L919.2,2207.3 L922.1,2207.8 L925.1,2208.3 L928.1,2208.9 L931.1,2209.5 L934.0,2210.1 L937.0,2210.8 L940.0,2211.5 L942.9,2212.2 L945.9,2212.9 L948.8,2213.7 L951.7,2214.5 L954.7,2215.4 L957.6,2216.3 L960.5,2217.2 L963.3,2218.2 L966.2,2219.2 L969.0,2220.2 L971.8,2221.3 L974.6,2222.5 L977.4,2223.7 L980.1,2224.9 L982.9,2226.2 L985.6,2227.5 L988.2,2228.9 L990.8,2230.4 L993.4,2231.9 L996.0,2233.5 L998.5,2235.1 L1001.0,2236.8 L1003.4,2238.5 L1005.8,2240.3 L1008.2,2242.1 L1010.6,2244.0 L1012.9,2245.9 L1015.1,2247.9 L1017.4,2249.9 L1019.6,2252.0 L1021.8,2254.1 L1023.9,2256.2 L1026.0,2258.4 L1028.1,2260.6 L1030.2,2262.8 L1032.2,2265.1 L1034.2,2267.4 L1036.1,2269.7 L1038.0,2272.0 L1039.9,2274.4 L1041.8,2276.8 L1043.7,2279.2 L1045.5,2281.6 L1047.2,2284.1 L1049.0,2286.5 L1050.7,2289.0 L1052.4,2291.5 L1054.1,2294.0 L1055.8,2296.5 L1057.4,2299.0 L1059.0,2301.6 L1060.6,2304.1 L1062.1,2306.7 L1063.7,2309.3 L1065.2,2311.9 L1066.7,2314.5 L1068.1,2317.1 L1069.6,2319.8 L1071.0,2322.4 L1072.4,2325.1 L1073.8,2327.8 L1075.2,2330.4 L1076.6,2333.1 L1077.9,2335.8 L1079.2,2338.5 L1080.5,2341.2 L1081.8,2344.0 L1083.1,2346.7 L1084.3,2349.4 L1085.6,2352.2 L1086.8,2355.0 L1088.0,2357.7 L1089.3,2360.5 L1090.4,2363.3 L1091.6,2366.1 L1092.8,2368.8 L1094.0,2371.6 L1095.1,2374.4 L1096.3,2377.2 L1097.4,2380.1 L1098.5,2382.9 L1099.6,2385.7 L1100.8,2388.5 L1101.9,2391.3 L1103.0,2394.2 L1104.1,2397.0 L1105.1,2399.8 L1106.2,2402.7 L1107.3,2405.5 L1108.4,2408.3 L1109.5,2411.2 L1110.5,2414.0 L1111.6,2416.8 L1112.7,2419.7 L1113.8,2422.5 L1114.9,2425.3 L1116.0,2428.2 L1117.1,2431.0 L1118.2,2433.8 L1119.3,2436.6 L1120.4,2439.4 L1121.6,2442.2 L1122.8,2445.0 L1123.9,2447.8 L1125.1,2450.5 L1126.3,2453.3 L1127.6,2456.1 L1128.8,2458.8 L1130.1,2461.5 L1131.4,2464.2 L1132.7,2466.9 L1134.1,2469.6 L1135.4,2472.3 L1136.9,2474.9 L1138.3,2477.5 L1139.9,2480.0 L1141.5,2482.5 L1143.1,2484.9 L1144.9,2487.2 L1146.7,2489.4 L1148.6,2491.5 L1150.6,2493.5 L1152.8,2495.4 L1155.0,2497.2 L1157.4,2498.8 L1159.9,2500.3 L1162.5,2501.7 L1165.1,2502.9 L1167.9,2504.1 L1170.8,2505.1 L1173.8,2505.9 L1176.9,2506.7 L1180.0,2507.4 L1183.2,2507.9" stroke="#1212ff" stroke-width="3.4" fill="none" stroke-linejoin="round" stroke-linecap="round"/>
<path d="M608.4,2226.8 L611.5,2226.8 L614.6,2226.8 L617.6,2226.8 L620.7,2226.8 L623.8,2226.9 L626.8,2226.9 L629.9,2226.9 L632.9,2226.9 L636.0,2226.9 L639.0,2227.0 L642.1,2227.0 L645.1,2227.0 L648.2,2227.1 L651.2,2227.1 L654.2,2227.1 L657.2,2227.2 L660.2,2227.2 L663.3,2227.2 L666.3,2227.3 L669.3,2227.3 L672.3,2227.3 L675.3,2227.4 L678.3,2227.4 L681.3,2227.4 L684.3,2227.5 L687.3,2227.5 L690.3,2227.6 L693.3,2227.6 L696.2,2227.6 L699.2,2227.7 L702.2,2227.7 L705.2,2227.7 L708.2,2227.8 L711.2,2227.8 L714.1,2227.8 L717.1,2227.9 L720.1,2227.9 L723.1,2227.9 L726.1,2228.0 L729.0,2228.0 L732.0,2228.0 L735.0,2228.0 L738.0,2228.0 L740.9,2228.1 L743.9,2228.1 L746.9,2228.1 L749.9,2228.1 L752.9,2228.1 L755.8,2228.1 L758.8,2228.1 L761.8,2228.1 L764.8,2228.1 L767.8,2228.1 L770.8,2228.1 L773.7,2228.1 L776.7,2228.1 L779.7,2228.0 L782.7,2228.0 L785.7,2228.0 L788.7,2228.0 L791.7,2227.9 L794.7,2227.9 L797.7,2227.8 L800.7,2227.8 L803.7,2227.7 L806.8,2227.7 L809.8,2227.6 L812.8,2227.6 L815.8,2227.5 L818.9,2227.4 L821.9,2227.3 L824.9,2227.2 L828.0,2227.2 L831.0,2227.1 L834.1,2227.0 L837.1,2226.9 L840.2,2226.7 L843.2,2226.6 L846.3,2226.5 L849.3,2226.4 L852.4,2226.2 L855.5,2226.1 L858.5,2225.9 L861.6,2225.7 L864.7,2225.5 L867.7,2225.3 L870.8,2225.1 L873.9,2224.9 L876.9,2224.7 L880.0,2224.4 L883.1,2224.2 L886.1,2223.9 L889.2,2223.6 L892.2,2223.3 L895.3,2223.0 L898.3,2222.6 L901.4,2222.3 L904.4,2221.9 L907.5,2221.5 L910.5,2221.1 L913.5,2220.7 L916.5,2220.3 L919.5,2219.8 L922.5,2219.3 L925.5,2218.8 L928.5,2218.3 L931.5,2217.8 L934.5,2217.2 L937.4,2216.6 L940.4,2216.0 L943.3,2215.3 L946.3,2214.7 L949.2,2214.0 L952.1,2213.3 L955.0,2212.6 L957.9,2211.8 L960.8,2211.0 L963.7,2210.2 L966.5,2209.3 L969.4,2208.5 L972.2,2207.6 L975.0,2206.6 L977.8,2205.7 L980.6,2204.7 L983.4,2203.7 L986.2,2202.6 L988.9,2201.6 L991.7,2200.4 L994.4,2199.3 L997.1,2198.1 L999.8,2196.9 L1002.4,2195.7 L1005.1,2194.4 L1007.7,2193.1 L1010.3,2191.7 L1012.9,2190.3 L1015.5,2188.9 L1018.1,2187.4 L1020.6,2185.9 L1023.1,2184.4 L1025.6,2182.8 L1028.1,2181.2 L1030.5,2179.6 L1033.0,2177.9 L1035.4,2176.1 L1037.8,2174.4 L1040.1,2172.5 L1042.5,2170.7 L1044.8,2168.8 L1047.1,2166.9 L1049.4,2164.9 L1051.6,2162.9 L1053.9,2160.8 L1056.1,2158.8 L1058.2,2156.6 L1060.4,2154.5 L1062.5,2152.3 L1064.6,2150.1 L1066.7,2147.9 L1068.7,2145.6 L1070.7,2143.3 L1072.7,2141.0 L1074.7,2138.6 L1076.6,2136.3 L1078.5,2133.9 L1080.4,2131.4 L1082.3,2129.0 L1084.1,2126.5 L1085.9,2124.0 L1087.6,2121.5 L1089.3,2119.0 L1091.0,2116.4 L1092.7,2113.9 L1094.3,2111.3 L1095.9,2108.7 L1097.5,2106.1 L1099.0,2103.4 L1100.5,2100.8 L1102.0,2098.1 L1103.4,2095.5 L1104.8,2092.8 L1106.2,2090.1 L1107.5,2087.4 L1108.9,2084.7 L1110.1,2082.0 L1111.4,2079.2 L1112.6,2076.5 L1113.8,2073.8 L1115.0,2071.1 L1116.2,2068.3 L1117.4,2065.6 L1118.6,2062.8 L1119.7,2060.1 L1120.9,2057.4 L1122.1,2054.6 L1123.3,2051.9 L1124.5,2049.2 L1125.7,2046.4 L1126.9,2043.7 L1128.2,2041.0 L1129.5,2038.3 L1130.8,2035.6 L1132.1,2032.9 L1133.5,2030.2 L1134.8,2027.5 L1136.2,2024.9 L1137.6,2022.2 L1139.0,2019.5 L1140.4,2016.8 L1141.8,2014.1 L1143.2,2011.4 L1144.6,2008.8 L1146.0,2006.1 L1147.4,2003.4 L1148.8,2000.7 L1150.1,1998.0 L1151.5,1995.2 L1152.8,1992.5 L1154.1,1989.8 L1155.4,1987.0 L1156.7,1984.3 L1158.0,1981.5 L1159.2,1978.7 L1160.5,1976.0 L1161.7,1973.2 L1163.0,1970.5 L1164.2,1967.7 L1165.5,1964.9 L1166.7,1962.2 L1168.0,1959.5 L1169.3,1956.7 L1170.6,1954.0 L1171.9,1951.4 L1173.3,1948.7 L1174.7,1946.1 L1176.1,1943.5 L1177.6,1940.9 L1179.2,1938.4 L1180.7,1935.9 L1182.4,1933.5 L1184.1,1931.1 L1185.8,1928.7 L1187.6,1926.4 L1189.4,1924.1 L1191.3,1921.8 L1193.2,1919.6 L1195.2,1917.4 L1197.2,1915.2 L1199.2,1913.1 L1201.3,1911.0 L1203.5,1908.9 L1205.6,1906.9 L1207.8,1904.9 L1210.1,1903.0 L1212.4,1901.0 L1214.7,1899.1 L1217.0,1897.3 L1219.4,1895.4 L1221.8,1893.6 L1224.3,1891.8 L1226.7,1890.0 L1229.2,1888.2 L1231.6,1886.4 L1234.1,1884.7 L1236.6,1882.9 L1239.1,1881.2 L1241.6,1879.4 L1244.1,1877.7 L1246.6,1875.9 L1249.1,1874.1 L1251.6,1872.4 L1254.1,1870.6 L1256.5,1868.8 L1259.0,1866.9 L1261.4,1865.1 L1263.7,1863.2 L1266.1,1861.3 L1268.4,1859.4 L1270.7,1857.4 L1273.0,1855.4 L1275.2,1853.4 L1277.4,1851.3 L1279.5,1849.2 L1281.6,1847.0 L1283.6,1844.8 L1285.6,1842.5 L1287.5,1840.2 L1289.4,1837.8 L1291.2,1835.4 L1292.9,1832.9" stroke="#11908b" stroke-width="3.4" fill="none" stroke-linejoin="round" stroke-linecap="round"/>
<path d="M815.0,2228.6 L818.0,2228.8 L821.0,2229.0 L824.0,2229.2 L827.0,2229.4 L830.0,2229.6 L833.0,2229.7 L836.0,2229.9 L839.0,2230.1 L842.1,2230.3 L845.1,2230.5 L848.1,2230.7 L851.2,2230.9 L854.2,2231.0 L857.3,2231.2 L860.3,2231.4 L863.4,2231.7 L866.5,2231.9 L869.5,2232.1 L872.6,2232.3 L875.6,2232.6 L878.7,2232.9 L881.8,2233.1 L884.8,2233.4 L887.9,2233.7 L890.9,2234.0 L894.0,2234.3 L897.1,2234.7 L900.1,2235.1 L903.2,2235.4 L906.2,2235.8 L909.2,2236.3 L912.3,2236.7 L915.3,2237.2 L918.3,2237.7 L921.4,2238.2 L924.4,2238.7 L927.4,2239.3 L930.4,2239.9 L933.4,2240.5 L936.3,2241.1 L939.3,2241.8 L942.3,2242.5 L945.3,2243.3 L948.2,2244.0 L951.1,2244.8 L954.1,2245.7 L957.0,2246.5 L959.9,2247.4 L962.8,2248.4 L965.7,2249.4 L968.5,2250.4 L971.4,2251.4 L974.2,2252.5 L977.0,2253.7 L979.8,2254.8 L982.6,2256.0 L985.3,2257.3 L988.1,2258.6 L990.8,2259.9 L993.5,2261.3 L996.1,2262.7 L998.7,2264.2 L1001.3,2265.7 L1003.9,2267.2 L1006.5,2268.8 L1009.0,2270.5 L1011.5,2272.2 L1013.9,2273.9 L1016.3,2275.7 L1018.7,2277.5 L1021.0,2279.4 L1023.4,2281.3 L1025.6,2283.3 L1027.8,2285.3 L1030.0,2287.4 L1032.2,2289.5 L1034.3,2291.6 L1036.4,2293.8 L1038.4,2296.1 L1040.3,2298.4 L1042.3,2300.7 L1044.2,2303.1 L1046.0,2305.6 L1047.8,2308.0 L1049.5,2310.6 L1051.2,2313.1 L1052.9,2315.7 L1054.5,2318.4 L1056.0,2321.1 L1057.5,2323.8 L1058.9,2326.6 L1060.3,2329.4 L1061.6,2332.2 L1062.9,2335.1" stroke="#11908b" stroke-width="3.4" fill="none" stroke-linejoin="round" stroke-linecap="round"/>
<path d="M1059.2,2341.6 C1060.5,2341.8 1064.5,2339.9 1066.9,2342.7 C1069.3,2345.4 1071.1,2352.2 1073.5,2358.1 C1075.9,2364.0 1078.6,2370.9 1081.2,2377.9 C1083.8,2384.9 1086.5,2392.6 1088.9,2399.9 C1091.3,2407.2 1093.7,2415.5 1095.5,2421.9 C1097.3,2428.3 1098.3,2432.5 1099.9,2438.4 C1101.5,2444.3 1102.4,2449.3 1105.0,2457.3 C1107.6,2465.3 1111.9,2476.5 1115.3,2486.5 C1118.7,2496.5 1122.6,2508.4 1125.6,2517.4 C1128.5,2526.4 1130.4,2533.7 1133.0,2540.6 C1135.6,2547.5 1138.5,2553.3 1141.2,2559.1 C1143.9,2564.9 1146.3,2570.4 1149.4,2575.6 C1152.5,2580.8 1156.0,2585.9 1159.8,2590.0 C1163.6,2594.1 1167.5,2597.9 1172.1,2600.4 C1176.7,2602.9 1182.8,2604.2 1187.6,2605.0 C1192.4,2605.8 1196.9,2604.8 1201.0,2605.5 C1205.1,2606.2 1210.4,2608.5 1212.3,2609.1" stroke="#11908b" stroke-width="3.4" fill="none" stroke-linejoin="round" stroke-linecap="round"/>
</svg>
</body></html>
